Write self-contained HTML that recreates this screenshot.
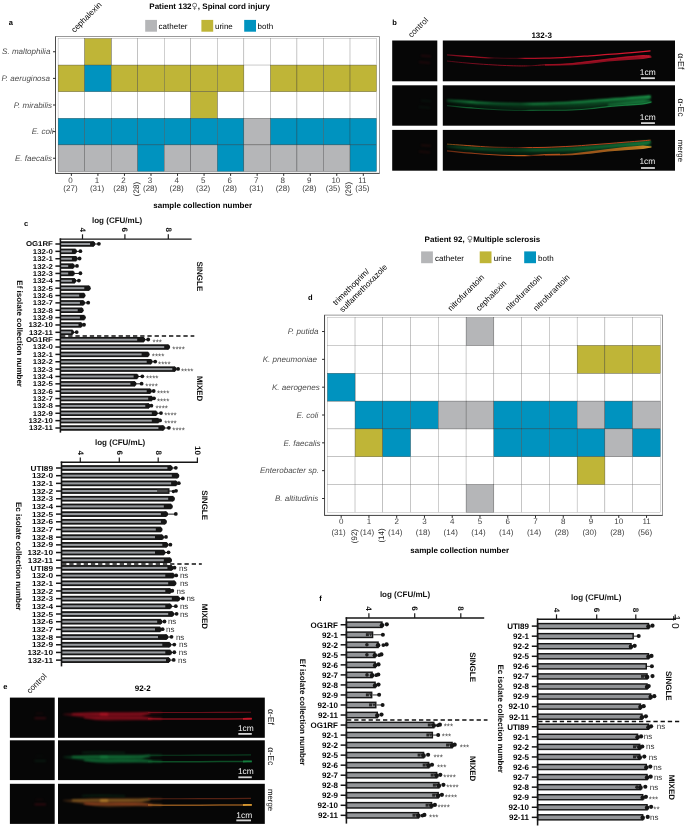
<!DOCTYPE html>
<html lang="en"><head><meta charset="utf-8"><title>Figure</title>
<style>html,body{margin:0;padding:0;background:#fff}svg{display:block}text{font-family:"Liberation Sans", "DejaVu Sans", sans-serif;text-rendering:geometricPrecision}</style></head><body>
<svg width="685" height="826" viewBox="0 0 685 826">
<rect x="0.00" y="0.00" width="685.00" height="826.00" fill="#fff"/>
<defs>
<filter id="bbl05" color-interpolation-filters="sRGB" filterUnits="userSpaceOnUse" x="388" y="36" width="292" height="140"><feGaussianBlur stdDeviation="0.55"/></filter>
<filter id="bbl08" color-interpolation-filters="sRGB" filterUnits="userSpaceOnUse" x="388" y="36" width="292" height="140"><feGaussianBlur stdDeviation="0.8"/></filter>
<filter id="bbl12" color-interpolation-filters="sRGB" filterUnits="userSpaceOnUse" x="388" y="36" width="292" height="140"><feGaussianBlur stdDeviation="1.2"/></filter>
<filter id="ebl05" color-interpolation-filters="sRGB" filterUnits="userSpaceOnUse" x="5" y="693" width="265" height="133"><feGaussianBlur stdDeviation="0.55"/></filter>
<filter id="ebl08" color-interpolation-filters="sRGB" filterUnits="userSpaceOnUse" x="5" y="693" width="265" height="133"><feGaussianBlur stdDeviation="0.8"/></filter>
<filter id="ebl12" color-interpolation-filters="sRGB" filterUnits="userSpaceOnUse" x="5" y="693" width="265" height="133"><feGaussianBlur stdDeviation="1.2"/></filter>
<linearGradient id="bRu" gradientUnits="userSpaceOnUse" x1="447" x2="652" y1="0" y2="0"><stop offset="0" stop-color="#8a0d22" stop-opacity="0.7"/><stop offset="0.1" stop-color="#b01026" stop-opacity="1"/><stop offset="0.19" stop-color="#980e20" stop-opacity="0.9"/><stop offset="0.23" stop-color="#5a0a18" stop-opacity="0.7"/><stop offset="0.34" stop-color="#500814" stop-opacity="0.7"/><stop offset="0.38" stop-color="#a80f24" stop-opacity="1"/><stop offset="0.6" stop-color="#c01228" stop-opacity="1"/><stop offset="0.85" stop-color="#d4162e" stop-opacity="1"/><stop offset="1" stop-color="#dc1830" stop-opacity="1"/></linearGradient>
<linearGradient id="bRl" gradientUnits="userSpaceOnUse" x1="447" x2="652" y1="0" y2="0"><stop offset="0" stop-color="#7a0c20" stop-opacity="0.7"/><stop offset="0.15" stop-color="#980e26" stop-opacity="0.9"/><stop offset="0.38" stop-color="#a00f22" stop-opacity="1"/><stop offset="0.41" stop-color="#600a18" stop-opacity="0.8"/><stop offset="0.45" stop-color="#980e20" stop-opacity="1"/><stop offset="0.7" stop-color="#a80f24" stop-opacity="1"/><stop offset="0.93" stop-color="#b81228" stop-opacity="1"/><stop offset="1" stop-color="#e81c36" stop-opacity="1"/></linearGradient>
<linearGradient id="bGu" gradientUnits="userSpaceOnUse" x1="447" x2="652" y1="0" y2="0"><stop offset="0" stop-color="#12753a" stop-opacity="0.7"/><stop offset="0.12" stop-color="#1c9c4c" stop-opacity="1"/><stop offset="0.22" stop-color="#13783c" stop-opacity="0.9"/><stop offset="0.36" stop-color="#0f6030" stop-opacity="0.8"/><stop offset="0.42" stop-color="#1a9048" stop-opacity="1"/><stop offset="0.75" stop-color="#1c9a4c" stop-opacity="1"/><stop offset="1" stop-color="#24b45a" stop-opacity="1"/></linearGradient>
<linearGradient id="bGf" gradientUnits="userSpaceOnUse" x1="447" x2="652" y1="0" y2="0"><stop offset="0" stop-color="#041a0c" stop-opacity="0.3"/><stop offset="0.06" stop-color="#052010" stop-opacity="0.9"/><stop offset="0.2" stop-color="#062814" stop-opacity="1"/><stop offset="0.5" stop-color="#083418" stop-opacity="1"/><stop offset="0.8" stop-color="#0c4a24" stop-opacity="1"/><stop offset="1" stop-color="#10602e" stop-opacity="1"/></linearGradient>
<linearGradient id="bMu" gradientUnits="userSpaceOnUse" x1="447" x2="652" y1="0" y2="0"><stop offset="0" stop-color="#8a5018" stop-opacity="0.8"/><stop offset="0.12" stop-color="#c8501c" stop-opacity="1"/><stop offset="0.22" stop-color="#8a3414" stop-opacity="0.9"/><stop offset="0.34" stop-color="#5a1a10" stop-opacity="0.8"/><stop offset="0.4" stop-color="#c0441c" stop-opacity="1"/><stop offset="0.8" stop-color="#b8401c" stop-opacity="1"/><stop offset="1" stop-color="#c0481c" stop-opacity="1"/></linearGradient>
<linearGradient id="bMl" gradientUnits="userSpaceOnUse" x1="447" x2="652" y1="0" y2="0"><stop offset="0" stop-color="#7a3014" stop-opacity="0.8"/><stop offset="0.2" stop-color="#a8441a" stop-opacity="1"/><stop offset="0.38" stop-color="#c05c1c" stop-opacity="1"/><stop offset="0.41" stop-color="#6a2a10" stop-opacity="0.8"/><stop offset="0.46" stop-color="#b04c1a" stop-opacity="1"/><stop offset="0.75" stop-color="#b8601c" stop-opacity="1"/><stop offset="0.92" stop-color="#d07c20" stop-opacity="1"/><stop offset="1" stop-color="#f0a030" stop-opacity="1"/></linearGradient>
<linearGradient id="eR" gradientUnits="userSpaceOnUse" x1="63" x2="252" y1="0" y2="0"><stop offset="0" stop-color="#5a0a18" stop-opacity="0.5"/><stop offset="0.08" stop-color="#900e28" stop-opacity="0.9"/><stop offset="0.14" stop-color="#c01434" stop-opacity="1"/><stop offset="0.4" stop-color="#b01230" stop-opacity="1"/><stop offset="0.47" stop-color="#7a0c20" stop-opacity="0.9"/><stop offset="1" stop-color="#6a0a1c" stop-opacity="0.9"/></linearGradient>
<linearGradient id="eRl" gradientUnits="userSpaceOnUse" x1="63" x2="252" y1="0" y2="0"><stop offset="0" stop-color="#5a0a18" stop-opacity="0.4"/><stop offset="0.12" stop-color="#b01230" stop-opacity="1"/><stop offset="0.42" stop-color="#b81232" stop-opacity="1"/><stop offset="0.5" stop-color="#980e28" stop-opacity="1"/><stop offset="0.9" stop-color="#980e28" stop-opacity="1"/><stop offset="1" stop-color="#c01434" stop-opacity="1"/></linearGradient>
<linearGradient id="eG" gradientUnits="userSpaceOnUse" x1="63" x2="252" y1="0" y2="0"><stop offset="0" stop-color="#0a3a1c" stop-opacity="0.5"/><stop offset="0.08" stop-color="#127038" stop-opacity="0.9"/><stop offset="0.14" stop-color="#1ea050" stop-opacity="1"/><stop offset="0.22" stop-color="#1a8c46" stop-opacity="1"/><stop offset="0.4" stop-color="#14703a" stop-opacity="1"/><stop offset="0.47" stop-color="#0e5028" stop-opacity="0.9"/><stop offset="1" stop-color="#0c4824" stop-opacity="0.9"/></linearGradient>
<linearGradient id="eGl" gradientUnits="userSpaceOnUse" x1="63" x2="252" y1="0" y2="0"><stop offset="0" stop-color="#0a3a1c" stop-opacity="0.4"/><stop offset="0.12" stop-color="#178844" stop-opacity="1"/><stop offset="0.42" stop-color="#15783c" stop-opacity="1"/><stop offset="0.5" stop-color="#106030" stop-opacity="1"/><stop offset="0.9" stop-color="#106030" stop-opacity="1"/><stop offset="1" stop-color="#158040" stop-opacity="1"/></linearGradient>
<linearGradient id="eM" gradientUnits="userSpaceOnUse" x1="63" x2="252" y1="0" y2="0"><stop offset="0" stop-color="#5a2a14" stop-opacity="0.5"/><stop offset="0.08" stop-color="#a06a24" stop-opacity="0.9"/><stop offset="0.16" stop-color="#c89030" stop-opacity="1"/><stop offset="0.4" stop-color="#b06424" stop-opacity="1"/><stop offset="0.47" stop-color="#7a2818" stop-opacity="0.9"/><stop offset="1" stop-color="#6a2418" stop-opacity="0.9"/></linearGradient>
<linearGradient id="eMl" gradientUnits="userSpaceOnUse" x1="63" x2="252" y1="0" y2="0"><stop offset="0" stop-color="#5a2a14" stop-opacity="0.4"/><stop offset="0.12" stop-color="#c88a2c" stop-opacity="1"/><stop offset="0.42" stop-color="#c8702a" stop-opacity="1"/><stop offset="0.5" stop-color="#b85a20" stop-opacity="1"/><stop offset="0.9" stop-color="#c07024" stop-opacity="1"/><stop offset="1" stop-color="#d89a30" stop-opacity="1"/></linearGradient>
</defs>
<g opacity="0.999">
<rect x="55.50" y="36.60" width="324.00" height="136.80" fill="#fff" stroke="#808080" stroke-width="0.8"/>
<path d="M55.50,36.60 V173.40 H379.50" fill="none" stroke="#3c3c3c" stroke-width="0.85"/>
<rect x="58.10" y="38.45" width="26.54" height="26.62" fill="#fff" stroke="#8c8c8c" stroke-width="0.35"/>
<rect x="111.18" y="38.45" width="26.54" height="26.62" fill="#fff" stroke="#8c8c8c" stroke-width="0.35"/>
<rect x="137.72" y="38.45" width="26.54" height="26.62" fill="#fff" stroke="#8c8c8c" stroke-width="0.35"/>
<rect x="164.26" y="38.45" width="26.54" height="26.62" fill="#fff" stroke="#8c8c8c" stroke-width="0.35"/>
<rect x="190.80" y="38.45" width="26.54" height="26.62" fill="#fff" stroke="#8c8c8c" stroke-width="0.35"/>
<rect x="217.34" y="38.45" width="26.54" height="26.62" fill="#fff" stroke="#8c8c8c" stroke-width="0.35"/>
<rect x="243.88" y="38.45" width="26.54" height="26.62" fill="#fff" stroke="#8c8c8c" stroke-width="0.35"/>
<rect x="270.42" y="38.45" width="26.54" height="26.62" fill="#fff" stroke="#8c8c8c" stroke-width="0.35"/>
<rect x="296.96" y="38.45" width="26.54" height="26.62" fill="#fff" stroke="#8c8c8c" stroke-width="0.35"/>
<rect x="323.50" y="38.45" width="26.54" height="26.62" fill="#fff" stroke="#8c8c8c" stroke-width="0.35"/>
<rect x="350.04" y="38.45" width="26.54" height="26.62" fill="#fff" stroke="#8c8c8c" stroke-width="0.35"/>
<rect x="243.88" y="65.07" width="26.54" height="26.62" fill="#fff" stroke="#8c8c8c" stroke-width="0.35"/>
<rect x="58.10" y="91.69" width="26.54" height="26.62" fill="#fff" stroke="#8c8c8c" stroke-width="0.35"/>
<rect x="84.64" y="91.69" width="26.54" height="26.62" fill="#fff" stroke="#8c8c8c" stroke-width="0.35"/>
<rect x="111.18" y="91.69" width="26.54" height="26.62" fill="#fff" stroke="#8c8c8c" stroke-width="0.35"/>
<rect x="137.72" y="91.69" width="26.54" height="26.62" fill="#fff" stroke="#8c8c8c" stroke-width="0.35"/>
<rect x="164.26" y="91.69" width="26.54" height="26.62" fill="#fff" stroke="#8c8c8c" stroke-width="0.35"/>
<rect x="217.34" y="91.69" width="26.54" height="26.62" fill="#fff" stroke="#8c8c8c" stroke-width="0.35"/>
<rect x="243.88" y="91.69" width="26.54" height="26.62" fill="#fff" stroke="#8c8c8c" stroke-width="0.35"/>
<rect x="270.42" y="91.69" width="26.54" height="26.62" fill="#fff" stroke="#8c8c8c" stroke-width="0.35"/>
<rect x="296.96" y="91.69" width="26.54" height="26.62" fill="#fff" stroke="#8c8c8c" stroke-width="0.35"/>
<rect x="323.50" y="91.69" width="26.54" height="26.62" fill="#fff" stroke="#8c8c8c" stroke-width="0.35"/>
<rect x="350.04" y="91.69" width="26.54" height="26.62" fill="#fff" stroke="#8c8c8c" stroke-width="0.35"/>
<rect x="84.64" y="38.45" width="26.54" height="26.62" fill="#BFB537" stroke="#333" stroke-width="0.3"/>
<rect x="58.10" y="65.07" width="26.54" height="26.62" fill="#BFB537" stroke="#333" stroke-width="0.3"/>
<rect x="84.64" y="65.07" width="26.54" height="26.62" fill="#0093BF" stroke="#333" stroke-width="0.3"/>
<rect x="111.18" y="65.07" width="26.54" height="26.62" fill="#BFB537" stroke="#333" stroke-width="0.3"/>
<rect x="137.72" y="65.07" width="26.54" height="26.62" fill="#BFB537" stroke="#333" stroke-width="0.3"/>
<rect x="164.26" y="65.07" width="26.54" height="26.62" fill="#BFB537" stroke="#333" stroke-width="0.3"/>
<rect x="190.80" y="65.07" width="26.54" height="26.62" fill="#BFB537" stroke="#333" stroke-width="0.3"/>
<rect x="217.34" y="65.07" width="26.54" height="26.62" fill="#BFB537" stroke="#333" stroke-width="0.3"/>
<rect x="270.42" y="65.07" width="26.54" height="26.62" fill="#BFB537" stroke="#333" stroke-width="0.3"/>
<rect x="296.96" y="65.07" width="26.54" height="26.62" fill="#BFB537" stroke="#333" stroke-width="0.3"/>
<rect x="323.50" y="65.07" width="26.54" height="26.62" fill="#BFB537" stroke="#333" stroke-width="0.3"/>
<rect x="350.04" y="65.07" width="26.54" height="26.62" fill="#BFB537" stroke="#333" stroke-width="0.3"/>
<rect x="190.80" y="91.69" width="26.54" height="26.62" fill="#BFB537" stroke="#333" stroke-width="0.3"/>
<rect x="58.10" y="118.31" width="26.54" height="26.62" fill="#0093BF" stroke="#333" stroke-width="0.3"/>
<rect x="84.64" y="118.31" width="26.54" height="26.62" fill="#0093BF" stroke="#333" stroke-width="0.3"/>
<rect x="111.18" y="118.31" width="26.54" height="26.62" fill="#0093BF" stroke="#333" stroke-width="0.3"/>
<rect x="137.72" y="118.31" width="26.54" height="26.62" fill="#0093BF" stroke="#333" stroke-width="0.3"/>
<rect x="164.26" y="118.31" width="26.54" height="26.62" fill="#0093BF" stroke="#333" stroke-width="0.3"/>
<rect x="190.80" y="118.31" width="26.54" height="26.62" fill="#0093BF" stroke="#333" stroke-width="0.3"/>
<rect x="217.34" y="118.31" width="26.54" height="26.62" fill="#0093BF" stroke="#333" stroke-width="0.3"/>
<rect x="243.88" y="118.31" width="26.54" height="26.62" fill="#B5B6B8" stroke="#333" stroke-width="0.3"/>
<rect x="270.42" y="118.31" width="26.54" height="26.62" fill="#0093BF" stroke="#333" stroke-width="0.3"/>
<rect x="296.96" y="118.31" width="26.54" height="26.62" fill="#0093BF" stroke="#333" stroke-width="0.3"/>
<rect x="323.50" y="118.31" width="26.54" height="26.62" fill="#0093BF" stroke="#333" stroke-width="0.3"/>
<rect x="350.04" y="118.31" width="26.54" height="26.62" fill="#0093BF" stroke="#333" stroke-width="0.3"/>
<rect x="58.10" y="144.93" width="26.54" height="26.62" fill="#B5B6B8" stroke="#333" stroke-width="0.3"/>
<rect x="84.64" y="144.93" width="26.54" height="26.62" fill="#B5B6B8" stroke="#333" stroke-width="0.3"/>
<rect x="111.18" y="144.93" width="26.54" height="26.62" fill="#B5B6B8" stroke="#333" stroke-width="0.3"/>
<rect x="137.72" y="144.93" width="26.54" height="26.62" fill="#0093BF" stroke="#333" stroke-width="0.3"/>
<rect x="164.26" y="144.93" width="26.54" height="26.62" fill="#B5B6B8" stroke="#333" stroke-width="0.3"/>
<rect x="190.80" y="144.93" width="26.54" height="26.62" fill="#B5B6B8" stroke="#333" stroke-width="0.3"/>
<rect x="217.34" y="144.93" width="26.54" height="26.62" fill="#0093BF" stroke="#333" stroke-width="0.3"/>
<rect x="243.88" y="144.93" width="26.54" height="26.62" fill="#B5B6B8" stroke="#333" stroke-width="0.3"/>
<rect x="270.42" y="144.93" width="26.54" height="26.62" fill="#B5B6B8" stroke="#333" stroke-width="0.3"/>
<rect x="296.96" y="144.93" width="26.54" height="26.62" fill="#B5B6B8" stroke="#333" stroke-width="0.3"/>
<rect x="323.50" y="144.93" width="26.54" height="26.62" fill="#B5B6B8" stroke="#333" stroke-width="0.3"/>
<rect x="350.04" y="144.93" width="26.54" height="26.62" fill="#0093BF" stroke="#333" stroke-width="0.3"/>
<line x1="53.00" y1="51.76" x2="55.50" y2="51.76" stroke="#2a2a2a" stroke-width="1.0"/>
<text x="50.40" y="54.46" font-size="8.05" font-weight="normal" font-style="italic" text-anchor="end" fill="#4d4d4d">S. maltophilia</text>
<line x1="53.00" y1="78.38" x2="55.50" y2="78.38" stroke="#2a2a2a" stroke-width="1.0"/>
<text x="50.10" y="81.08" font-size="8.05" font-weight="normal" font-style="italic" text-anchor="end" fill="#4d4d4d">P. aeruginosa</text>
<line x1="53.00" y1="105.00" x2="55.50" y2="105.00" stroke="#2a2a2a" stroke-width="1.0"/>
<text x="52.00" y="107.70" font-size="8.05" font-weight="normal" font-style="italic" text-anchor="end" fill="#4d4d4d">P. mirabilis</text>
<line x1="53.00" y1="131.62" x2="55.50" y2="131.62" stroke="#2a2a2a" stroke-width="1.0"/>
<text x="53.60" y="134.32" font-size="8.05" font-weight="normal" font-style="italic" text-anchor="end" fill="#4d4d4d">E. coli</text>
<line x1="53.00" y1="158.24" x2="55.50" y2="158.24" stroke="#2a2a2a" stroke-width="1.0"/>
<text x="52.00" y="160.94" font-size="8.05" font-weight="normal" font-style="italic" text-anchor="end" fill="#4d4d4d">E. faecalis</text>
<line x1="71.37" y1="173.40" x2="71.37" y2="175.90" stroke="#2a2a2a" stroke-width="1.0"/>
<text x="70.47" y="183.20" font-size="8.0" font-weight="normal" font-style="normal" text-anchor="middle" fill="#444">0</text>
<text x="70.47" y="191.40" font-size="8.0" font-weight="normal" font-style="normal" text-anchor="middle" fill="#3a3a3a">(27)</text>
<line x1="97.91" y1="173.40" x2="97.91" y2="175.90" stroke="#2a2a2a" stroke-width="1.0"/>
<text x="97.01" y="183.20" font-size="8.0" font-weight="normal" font-style="normal" text-anchor="middle" fill="#444">1</text>
<text x="97.01" y="191.40" font-size="8.0" font-weight="normal" font-style="normal" text-anchor="middle" fill="#3a3a3a">(31)</text>
<line x1="124.45" y1="173.40" x2="124.45" y2="175.90" stroke="#2a2a2a" stroke-width="1.0"/>
<text x="123.55" y="183.20" font-size="8.0" font-weight="normal" font-style="normal" text-anchor="middle" fill="#444">2</text>
<text x="120.35" y="191.40" font-size="8.0" font-weight="normal" font-style="normal" text-anchor="middle" fill="#3a3a3a">(28)</text>
<line x1="150.99" y1="173.40" x2="150.99" y2="175.90" stroke="#2a2a2a" stroke-width="1.0"/>
<text x="150.09" y="183.20" font-size="8.0" font-weight="normal" font-style="normal" text-anchor="middle" fill="#444">3</text>
<text x="150.09" y="191.40" font-size="8.0" font-weight="normal" font-style="normal" text-anchor="middle" fill="#3a3a3a">(28)</text>
<line x1="177.53" y1="173.40" x2="177.53" y2="175.90" stroke="#2a2a2a" stroke-width="1.0"/>
<text x="176.63" y="183.20" font-size="8.0" font-weight="normal" font-style="normal" text-anchor="middle" fill="#444">4</text>
<text x="176.63" y="191.40" font-size="8.0" font-weight="normal" font-style="normal" text-anchor="middle" fill="#3a3a3a">(28)</text>
<line x1="204.07" y1="173.40" x2="204.07" y2="175.90" stroke="#2a2a2a" stroke-width="1.0"/>
<text x="203.17" y="183.20" font-size="8.0" font-weight="normal" font-style="normal" text-anchor="middle" fill="#444">5</text>
<text x="203.17" y="191.40" font-size="8.0" font-weight="normal" font-style="normal" text-anchor="middle" fill="#3a3a3a">(32)</text>
<line x1="230.61" y1="173.40" x2="230.61" y2="175.90" stroke="#2a2a2a" stroke-width="1.0"/>
<text x="229.71" y="183.20" font-size="8.0" font-weight="normal" font-style="normal" text-anchor="middle" fill="#444">6</text>
<text x="229.71" y="191.40" font-size="8.0" font-weight="normal" font-style="normal" text-anchor="middle" fill="#3a3a3a">(28)</text>
<line x1="257.15" y1="173.40" x2="257.15" y2="175.90" stroke="#2a2a2a" stroke-width="1.0"/>
<text x="256.25" y="183.20" font-size="8.0" font-weight="normal" font-style="normal" text-anchor="middle" fill="#444">7</text>
<text x="256.25" y="191.40" font-size="8.0" font-weight="normal" font-style="normal" text-anchor="middle" fill="#3a3a3a">(31)</text>
<line x1="283.69" y1="173.40" x2="283.69" y2="175.90" stroke="#2a2a2a" stroke-width="1.0"/>
<text x="282.79" y="183.20" font-size="8.0" font-weight="normal" font-style="normal" text-anchor="middle" fill="#444">8</text>
<text x="282.79" y="191.40" font-size="8.0" font-weight="normal" font-style="normal" text-anchor="middle" fill="#3a3a3a">(28)</text>
<line x1="310.23" y1="173.40" x2="310.23" y2="175.90" stroke="#2a2a2a" stroke-width="1.0"/>
<text x="309.33" y="183.20" font-size="8.0" font-weight="normal" font-style="normal" text-anchor="middle" fill="#444">9</text>
<text x="309.33" y="191.40" font-size="8.0" font-weight="normal" font-style="normal" text-anchor="middle" fill="#3a3a3a">(28)</text>
<line x1="336.77" y1="173.40" x2="336.77" y2="175.90" stroke="#2a2a2a" stroke-width="1.0"/>
<text x="335.87" y="183.20" font-size="8.0" font-weight="normal" font-style="normal" text-anchor="middle" fill="#444">10</text>
<text x="332.97" y="191.40" font-size="8.0" font-weight="normal" font-style="normal" text-anchor="middle" fill="#3a3a3a">(35)</text>
<line x1="363.31" y1="173.40" x2="363.31" y2="175.90" stroke="#2a2a2a" stroke-width="1.0"/>
<text x="362.41" y="183.20" font-size="8.0" font-weight="normal" font-style="normal" text-anchor="middle" fill="#444">11</text>
<text x="362.41" y="191.40" font-size="8.0" font-weight="normal" font-style="normal" text-anchor="middle" fill="#3a3a3a">(35)</text>
<text x="138.80" y="189.00" font-size="8.0" font-weight="normal" font-style="normal" text-anchor="middle" fill="#222" transform="rotate(-90 138.80 189.00)">(28)</text>
<text x="351.40" y="189.00" font-size="8.0" font-weight="normal" font-style="normal" text-anchor="middle" fill="#222" transform="rotate(-90 351.40 189.00)">(26)</text>
<text x="153.30" y="208.00" font-size="8" font-weight="bold" font-style="normal" text-anchor="start" fill="#000">sample collection number</text>
<text x="149.30" y="8.80" font-size="8" font-weight="bold" fill="#000">Patient 132<tspan font-weight="normal" font-family="DejaVu Sans" font-size="8.6" fill="#666">♀</tspan>, Spinal cord injury</text>
<rect x="145.20" y="19.90" width="11.80" height="11.80" fill="#B5B6B8"/>
<text x="158.60" y="29.30" font-size="8" font-weight="normal" font-style="normal" text-anchor="start" fill="#000">catheter</text>
<rect x="201.40" y="19.90" width="11.80" height="11.80" fill="#BFB537"/>
<text x="215.00" y="29.30" font-size="8" font-weight="normal" font-style="normal" text-anchor="start" fill="#000">urine</text>
<rect x="244.20" y="19.90" width="11.80" height="11.80" fill="#0093BF"/>
<text x="257.60" y="29.30" font-size="8" font-weight="normal" font-style="normal" text-anchor="start" fill="#000">both</text>
<text x="74.50" y="33.00" font-size="8.2" font-weight="normal" font-style="normal" text-anchor="start" fill="#000" transform="rotate(-45 74.50 33.00)">cephalexin</text>
<text x="8.80" y="25.40" font-size="7.5" font-weight="bold" font-style="normal" text-anchor="start" fill="#000">a</text>
<rect x="324.55" y="315.10" width="338.05" height="200.30" fill="#fff" stroke="#808080" stroke-width="0.8"/>
<path d="M324.55,315.10 V515.40 H662.60" fill="none" stroke="#3c3c3c" stroke-width="0.85"/>
<rect x="327.30" y="317.60" width="27.76" height="27.83" fill="#fff" stroke="#8c8c8c" stroke-width="0.35"/>
<rect x="355.06" y="317.60" width="27.76" height="27.83" fill="#fff" stroke="#8c8c8c" stroke-width="0.35"/>
<rect x="382.82" y="317.60" width="27.76" height="27.83" fill="#fff" stroke="#8c8c8c" stroke-width="0.35"/>
<rect x="410.58" y="317.60" width="27.76" height="27.83" fill="#fff" stroke="#8c8c8c" stroke-width="0.35"/>
<rect x="438.34" y="317.60" width="27.76" height="27.83" fill="#fff" stroke="#8c8c8c" stroke-width="0.35"/>
<rect x="493.86" y="317.60" width="27.76" height="27.83" fill="#fff" stroke="#8c8c8c" stroke-width="0.35"/>
<rect x="521.62" y="317.60" width="27.76" height="27.83" fill="#fff" stroke="#8c8c8c" stroke-width="0.35"/>
<rect x="549.38" y="317.60" width="27.76" height="27.83" fill="#fff" stroke="#8c8c8c" stroke-width="0.35"/>
<rect x="577.14" y="317.60" width="27.76" height="27.83" fill="#fff" stroke="#8c8c8c" stroke-width="0.35"/>
<rect x="604.90" y="317.60" width="27.76" height="27.83" fill="#fff" stroke="#8c8c8c" stroke-width="0.35"/>
<rect x="632.66" y="317.60" width="27.76" height="27.83" fill="#fff" stroke="#8c8c8c" stroke-width="0.35"/>
<rect x="327.30" y="345.43" width="27.76" height="27.83" fill="#fff" stroke="#8c8c8c" stroke-width="0.35"/>
<rect x="355.06" y="345.43" width="27.76" height="27.83" fill="#fff" stroke="#8c8c8c" stroke-width="0.35"/>
<rect x="382.82" y="345.43" width="27.76" height="27.83" fill="#fff" stroke="#8c8c8c" stroke-width="0.35"/>
<rect x="410.58" y="345.43" width="27.76" height="27.83" fill="#fff" stroke="#8c8c8c" stroke-width="0.35"/>
<rect x="438.34" y="345.43" width="27.76" height="27.83" fill="#fff" stroke="#8c8c8c" stroke-width="0.35"/>
<rect x="466.10" y="345.43" width="27.76" height="27.83" fill="#fff" stroke="#8c8c8c" stroke-width="0.35"/>
<rect x="493.86" y="345.43" width="27.76" height="27.83" fill="#fff" stroke="#8c8c8c" stroke-width="0.35"/>
<rect x="521.62" y="345.43" width="27.76" height="27.83" fill="#fff" stroke="#8c8c8c" stroke-width="0.35"/>
<rect x="549.38" y="345.43" width="27.76" height="27.83" fill="#fff" stroke="#8c8c8c" stroke-width="0.35"/>
<rect x="355.06" y="373.26" width="27.76" height="27.83" fill="#fff" stroke="#8c8c8c" stroke-width="0.35"/>
<rect x="382.82" y="373.26" width="27.76" height="27.83" fill="#fff" stroke="#8c8c8c" stroke-width="0.35"/>
<rect x="410.58" y="373.26" width="27.76" height="27.83" fill="#fff" stroke="#8c8c8c" stroke-width="0.35"/>
<rect x="438.34" y="373.26" width="27.76" height="27.83" fill="#fff" stroke="#8c8c8c" stroke-width="0.35"/>
<rect x="466.10" y="373.26" width="27.76" height="27.83" fill="#fff" stroke="#8c8c8c" stroke-width="0.35"/>
<rect x="493.86" y="373.26" width="27.76" height="27.83" fill="#fff" stroke="#8c8c8c" stroke-width="0.35"/>
<rect x="521.62" y="373.26" width="27.76" height="27.83" fill="#fff" stroke="#8c8c8c" stroke-width="0.35"/>
<rect x="549.38" y="373.26" width="27.76" height="27.83" fill="#fff" stroke="#8c8c8c" stroke-width="0.35"/>
<rect x="577.14" y="373.26" width="27.76" height="27.83" fill="#fff" stroke="#8c8c8c" stroke-width="0.35"/>
<rect x="604.90" y="373.26" width="27.76" height="27.83" fill="#fff" stroke="#8c8c8c" stroke-width="0.35"/>
<rect x="632.66" y="373.26" width="27.76" height="27.83" fill="#fff" stroke="#8c8c8c" stroke-width="0.35"/>
<rect x="327.30" y="401.09" width="27.76" height="27.83" fill="#fff" stroke="#8c8c8c" stroke-width="0.35"/>
<rect x="327.30" y="428.92" width="27.76" height="27.83" fill="#fff" stroke="#8c8c8c" stroke-width="0.35"/>
<rect x="410.58" y="428.92" width="27.76" height="27.83" fill="#fff" stroke="#8c8c8c" stroke-width="0.35"/>
<rect x="438.34" y="428.92" width="27.76" height="27.83" fill="#fff" stroke="#8c8c8c" stroke-width="0.35"/>
<rect x="466.10" y="428.92" width="27.76" height="27.83" fill="#fff" stroke="#8c8c8c" stroke-width="0.35"/>
<rect x="327.30" y="456.75" width="27.76" height="27.83" fill="#fff" stroke="#8c8c8c" stroke-width="0.35"/>
<rect x="355.06" y="456.75" width="27.76" height="27.83" fill="#fff" stroke="#8c8c8c" stroke-width="0.35"/>
<rect x="382.82" y="456.75" width="27.76" height="27.83" fill="#fff" stroke="#8c8c8c" stroke-width="0.35"/>
<rect x="410.58" y="456.75" width="27.76" height="27.83" fill="#fff" stroke="#8c8c8c" stroke-width="0.35"/>
<rect x="438.34" y="456.75" width="27.76" height="27.83" fill="#fff" stroke="#8c8c8c" stroke-width="0.35"/>
<rect x="466.10" y="456.75" width="27.76" height="27.83" fill="#fff" stroke="#8c8c8c" stroke-width="0.35"/>
<rect x="493.86" y="456.75" width="27.76" height="27.83" fill="#fff" stroke="#8c8c8c" stroke-width="0.35"/>
<rect x="521.62" y="456.75" width="27.76" height="27.83" fill="#fff" stroke="#8c8c8c" stroke-width="0.35"/>
<rect x="549.38" y="456.75" width="27.76" height="27.83" fill="#fff" stroke="#8c8c8c" stroke-width="0.35"/>
<rect x="604.90" y="456.75" width="27.76" height="27.83" fill="#fff" stroke="#8c8c8c" stroke-width="0.35"/>
<rect x="632.66" y="456.75" width="27.76" height="27.83" fill="#fff" stroke="#8c8c8c" stroke-width="0.35"/>
<rect x="327.30" y="484.58" width="27.76" height="27.83" fill="#fff" stroke="#8c8c8c" stroke-width="0.35"/>
<rect x="355.06" y="484.58" width="27.76" height="27.83" fill="#fff" stroke="#8c8c8c" stroke-width="0.35"/>
<rect x="382.82" y="484.58" width="27.76" height="27.83" fill="#fff" stroke="#8c8c8c" stroke-width="0.35"/>
<rect x="410.58" y="484.58" width="27.76" height="27.83" fill="#fff" stroke="#8c8c8c" stroke-width="0.35"/>
<rect x="438.34" y="484.58" width="27.76" height="27.83" fill="#fff" stroke="#8c8c8c" stroke-width="0.35"/>
<rect x="493.86" y="484.58" width="27.76" height="27.83" fill="#fff" stroke="#8c8c8c" stroke-width="0.35"/>
<rect x="521.62" y="484.58" width="27.76" height="27.83" fill="#fff" stroke="#8c8c8c" stroke-width="0.35"/>
<rect x="549.38" y="484.58" width="27.76" height="27.83" fill="#fff" stroke="#8c8c8c" stroke-width="0.35"/>
<rect x="577.14" y="484.58" width="27.76" height="27.83" fill="#fff" stroke="#8c8c8c" stroke-width="0.35"/>
<rect x="604.90" y="484.58" width="27.76" height="27.83" fill="#fff" stroke="#8c8c8c" stroke-width="0.35"/>
<rect x="632.66" y="484.58" width="27.76" height="27.83" fill="#fff" stroke="#8c8c8c" stroke-width="0.35"/>
<rect x="466.10" y="317.60" width="27.76" height="27.83" fill="#B5B6B8" stroke="#333" stroke-width="0.3"/>
<rect x="577.14" y="345.43" width="27.76" height="27.83" fill="#BFB537" stroke="#333" stroke-width="0.3"/>
<rect x="604.90" y="345.43" width="27.76" height="27.83" fill="#BFB537" stroke="#333" stroke-width="0.3"/>
<rect x="632.66" y="345.43" width="27.76" height="27.83" fill="#BFB537" stroke="#333" stroke-width="0.3"/>
<rect x="327.30" y="373.26" width="27.76" height="27.83" fill="#0093BF" stroke="#333" stroke-width="0.3"/>
<rect x="355.06" y="401.09" width="27.76" height="27.83" fill="#0093BF" stroke="#333" stroke-width="0.3"/>
<rect x="382.82" y="401.09" width="27.76" height="27.83" fill="#0093BF" stroke="#333" stroke-width="0.3"/>
<rect x="410.58" y="401.09" width="27.76" height="27.83" fill="#0093BF" stroke="#333" stroke-width="0.3"/>
<rect x="438.34" y="401.09" width="27.76" height="27.83" fill="#B5B6B8" stroke="#333" stroke-width="0.3"/>
<rect x="466.10" y="401.09" width="27.76" height="27.83" fill="#B5B6B8" stroke="#333" stroke-width="0.3"/>
<rect x="493.86" y="401.09" width="27.76" height="27.83" fill="#0093BF" stroke="#333" stroke-width="0.3"/>
<rect x="521.62" y="401.09" width="27.76" height="27.83" fill="#0093BF" stroke="#333" stroke-width="0.3"/>
<rect x="549.38" y="401.09" width="27.76" height="27.83" fill="#0093BF" stroke="#333" stroke-width="0.3"/>
<rect x="577.14" y="401.09" width="27.76" height="27.83" fill="#B5B6B8" stroke="#333" stroke-width="0.3"/>
<rect x="604.90" y="401.09" width="27.76" height="27.83" fill="#0093BF" stroke="#333" stroke-width="0.3"/>
<rect x="632.66" y="401.09" width="27.76" height="27.83" fill="#B5B6B8" stroke="#333" stroke-width="0.3"/>
<rect x="355.06" y="428.92" width="27.76" height="27.83" fill="#BFB537" stroke="#333" stroke-width="0.3"/>
<rect x="382.82" y="428.92" width="27.76" height="27.83" fill="#0093BF" stroke="#333" stroke-width="0.3"/>
<rect x="493.86" y="428.92" width="27.76" height="27.83" fill="#0093BF" stroke="#333" stroke-width="0.3"/>
<rect x="521.62" y="428.92" width="27.76" height="27.83" fill="#0093BF" stroke="#333" stroke-width="0.3"/>
<rect x="549.38" y="428.92" width="27.76" height="27.83" fill="#0093BF" stroke="#333" stroke-width="0.3"/>
<rect x="577.14" y="428.92" width="27.76" height="27.83" fill="#0093BF" stroke="#333" stroke-width="0.3"/>
<rect x="604.90" y="428.92" width="27.76" height="27.83" fill="#B5B6B8" stroke="#333" stroke-width="0.3"/>
<rect x="632.66" y="428.92" width="27.76" height="27.83" fill="#0093BF" stroke="#333" stroke-width="0.3"/>
<rect x="577.14" y="456.75" width="27.76" height="27.83" fill="#BFB537" stroke="#333" stroke-width="0.3"/>
<rect x="466.10" y="484.58" width="27.76" height="27.83" fill="#B5B6B8" stroke="#333" stroke-width="0.3"/>
<line x1="322.05" y1="331.52" x2="324.55" y2="331.52" stroke="#2a2a2a" stroke-width="1.0"/>
<text x="318.40" y="334.22" font-size="8.05" font-weight="normal" font-style="italic" text-anchor="end" fill="#4d4d4d">P. putida</text>
<line x1="322.05" y1="359.35" x2="324.55" y2="359.35" stroke="#2a2a2a" stroke-width="1.0"/>
<text x="316.90" y="362.05" font-size="8.05" font-weight="normal" font-style="italic" text-anchor="end" fill="#4d4d4d">K. pneumoniae</text>
<line x1="322.05" y1="387.18" x2="324.55" y2="387.18" stroke="#2a2a2a" stroke-width="1.0"/>
<text x="319.80" y="389.88" font-size="8.05" font-weight="normal" font-style="italic" text-anchor="end" fill="#4d4d4d">K. aerogenes</text>
<line x1="322.05" y1="415.00" x2="324.55" y2="415.00" stroke="#2a2a2a" stroke-width="1.0"/>
<text x="318.40" y="417.70" font-size="8.05" font-weight="normal" font-style="italic" text-anchor="end" fill="#4d4d4d">E. coli</text>
<line x1="322.05" y1="442.84" x2="324.55" y2="442.84" stroke="#2a2a2a" stroke-width="1.0"/>
<text x="320.60" y="445.54" font-size="8.05" font-weight="normal" font-style="italic" text-anchor="end" fill="#4d4d4d">E. faecalis</text>
<line x1="322.05" y1="470.67" x2="324.55" y2="470.67" stroke="#2a2a2a" stroke-width="1.0"/>
<text x="319.00" y="473.37" font-size="8.05" font-weight="normal" font-style="italic" text-anchor="end" fill="#4d4d4d">Enterobacter sp.</text>
<line x1="322.05" y1="498.50" x2="324.55" y2="498.50" stroke="#2a2a2a" stroke-width="1.0"/>
<text x="318.40" y="501.19" font-size="8.05" font-weight="normal" font-style="italic" text-anchor="end" fill="#4d4d4d">B. altitudinis</text>
<line x1="341.18" y1="515.40" x2="341.18" y2="517.90" stroke="#2a2a2a" stroke-width="1.0"/>
<text x="341.18" y="523.80" font-size="8.0" font-weight="normal" font-style="normal" text-anchor="middle" fill="#444">0</text>
<text x="338.58" y="534.90" font-size="8.0" font-weight="normal" font-style="normal" text-anchor="middle" fill="#3a3a3a">(31)</text>
<line x1="368.94" y1="515.40" x2="368.94" y2="517.90" stroke="#2a2a2a" stroke-width="1.0"/>
<text x="368.94" y="523.80" font-size="8.0" font-weight="normal" font-style="normal" text-anchor="middle" fill="#444">1</text>
<text x="367.04" y="534.90" font-size="8.0" font-weight="normal" font-style="normal" text-anchor="middle" fill="#3a3a3a">(14)</text>
<line x1="396.70" y1="515.40" x2="396.70" y2="517.90" stroke="#2a2a2a" stroke-width="1.0"/>
<text x="396.70" y="523.80" font-size="8.0" font-weight="normal" font-style="normal" text-anchor="middle" fill="#444">2</text>
<text x="395.20" y="534.90" font-size="8.0" font-weight="normal" font-style="normal" text-anchor="middle" fill="#3a3a3a">(14)</text>
<line x1="424.46" y1="515.40" x2="424.46" y2="517.90" stroke="#2a2a2a" stroke-width="1.0"/>
<text x="424.46" y="523.80" font-size="8.0" font-weight="normal" font-style="normal" text-anchor="middle" fill="#444">3</text>
<text x="422.96" y="534.90" font-size="8.0" font-weight="normal" font-style="normal" text-anchor="middle" fill="#3a3a3a">(18)</text>
<line x1="452.22" y1="515.40" x2="452.22" y2="517.90" stroke="#2a2a2a" stroke-width="1.0"/>
<text x="452.22" y="523.80" font-size="8.0" font-weight="normal" font-style="normal" text-anchor="middle" fill="#444">4</text>
<text x="450.72" y="534.90" font-size="8.0" font-weight="normal" font-style="normal" text-anchor="middle" fill="#3a3a3a">(14)</text>
<line x1="479.98" y1="515.40" x2="479.98" y2="517.90" stroke="#2a2a2a" stroke-width="1.0"/>
<text x="479.98" y="523.80" font-size="8.0" font-weight="normal" font-style="normal" text-anchor="middle" fill="#444">5</text>
<text x="478.48" y="534.90" font-size="8.0" font-weight="normal" font-style="normal" text-anchor="middle" fill="#3a3a3a">(14)</text>
<line x1="507.74" y1="515.40" x2="507.74" y2="517.90" stroke="#2a2a2a" stroke-width="1.0"/>
<text x="507.74" y="523.80" font-size="8.0" font-weight="normal" font-style="normal" text-anchor="middle" fill="#444">6</text>
<text x="506.24" y="534.90" font-size="8.0" font-weight="normal" font-style="normal" text-anchor="middle" fill="#3a3a3a">(14)</text>
<line x1="535.50" y1="515.40" x2="535.50" y2="517.90" stroke="#2a2a2a" stroke-width="1.0"/>
<text x="535.50" y="523.80" font-size="8.0" font-weight="normal" font-style="normal" text-anchor="middle" fill="#444">7</text>
<text x="534.00" y="534.90" font-size="8.0" font-weight="normal" font-style="normal" text-anchor="middle" fill="#3a3a3a">(14)</text>
<line x1="563.26" y1="515.40" x2="563.26" y2="517.90" stroke="#2a2a2a" stroke-width="1.0"/>
<text x="563.26" y="523.80" font-size="8.0" font-weight="normal" font-style="normal" text-anchor="middle" fill="#444">8</text>
<text x="561.76" y="534.90" font-size="8.0" font-weight="normal" font-style="normal" text-anchor="middle" fill="#3a3a3a">(28)</text>
<line x1="591.02" y1="515.40" x2="591.02" y2="517.90" stroke="#2a2a2a" stroke-width="1.0"/>
<text x="591.02" y="523.80" font-size="8.0" font-weight="normal" font-style="normal" text-anchor="middle" fill="#444">9</text>
<text x="589.52" y="534.90" font-size="8.0" font-weight="normal" font-style="normal" text-anchor="middle" fill="#3a3a3a">(30)</text>
<line x1="618.78" y1="515.40" x2="618.78" y2="517.90" stroke="#2a2a2a" stroke-width="1.0"/>
<text x="618.78" y="523.80" font-size="8.0" font-weight="normal" font-style="normal" text-anchor="middle" fill="#444">10</text>
<text x="617.28" y="534.90" font-size="8.0" font-weight="normal" font-style="normal" text-anchor="middle" fill="#3a3a3a">(28)</text>
<line x1="646.54" y1="515.40" x2="646.54" y2="517.90" stroke="#2a2a2a" stroke-width="1.0"/>
<text x="646.54" y="523.80" font-size="8.0" font-weight="normal" font-style="normal" text-anchor="middle" fill="#444">11</text>
<text x="645.04" y="534.90" font-size="8.0" font-weight="normal" font-style="normal" text-anchor="middle" fill="#3a3a3a">(56)</text>
<text x="356.60" y="536.10" font-size="8.0" font-weight="normal" font-style="normal" text-anchor="middle" fill="#222" transform="rotate(-90 356.60 536.10)">(92)</text>
<text x="384.40" y="535.50" font-size="8.0" font-weight="normal" font-style="normal" text-anchor="middle" fill="#222" transform="rotate(-90 384.40 535.50)">(14)</text>
<text x="410.30" y="552.50" font-size="8" font-weight="bold" font-style="normal" text-anchor="start" fill="#000">sample collection number</text>
<text x="424.60" y="241.70" font-size="8" font-weight="bold" fill="#000">Patient 92, <tspan font-weight="normal" font-family="DejaVu Sans" font-size="8.6" fill="#666">♀</tspan>Multiple sclerosis</text>
<rect x="421.10" y="251.40" width="11.80" height="11.80" fill="#B5B6B8"/>
<text x="435.10" y="260.80" font-size="8" font-weight="normal" font-style="normal" text-anchor="start" fill="#000">catheter</text>
<rect x="479.70" y="251.40" width="11.80" height="11.80" fill="#BFB537"/>
<text x="493.80" y="260.80" font-size="8" font-weight="normal" font-style="normal" text-anchor="start" fill="#000">urine</text>
<rect x="524.20" y="251.40" width="11.80" height="11.80" fill="#0093BF"/>
<text x="538.10" y="260.80" font-size="8" font-weight="normal" font-style="normal" text-anchor="start" fill="#000">both</text>
<text x="336.00" y="305.80" font-size="8.2" font-weight="normal" font-style="normal" text-anchor="start" fill="#000" transform="rotate(-45 336.00 305.80)">trimethoprim/</text>
<text x="342.80" y="312.70" font-size="8.2" font-weight="normal" font-style="normal" text-anchor="start" fill="#000" transform="rotate(-45 342.80 312.70)">sulfamethoxazole</text>
<text x="451.00" y="311.50" font-size="8.2" font-weight="normal" font-style="normal" text-anchor="start" fill="#000" transform="rotate(-45 451.00 311.50)">nitrofurantoin</text>
<text x="479.20" y="311.50" font-size="8.2" font-weight="normal" font-style="normal" text-anchor="start" fill="#000" transform="rotate(-45 479.20 311.50)">cephalexin</text>
<text x="508.60" y="311.50" font-size="8.2" font-weight="normal" font-style="normal" text-anchor="start" fill="#000" transform="rotate(-45 508.60 311.50)">nitrofurantoin</text>
<text x="536.40" y="311.50" font-size="8.2" font-weight="normal" font-style="normal" text-anchor="start" fill="#000" transform="rotate(-45 536.40 311.50)">nitrofurantoin</text>
<text x="308.10" y="299.60" font-size="7.5" font-weight="bold" font-style="normal" text-anchor="start" fill="#000">d</text>
<rect x="392.20" y="40.50" width="45.10" height="40.80" fill="#060606"/>
<rect x="442.80" y="40.50" width="232.20" height="40.80" fill="#060606"/>
<rect x="392.20" y="85.30" width="45.10" height="40.40" fill="#060606"/>
<rect x="442.80" y="85.30" width="232.20" height="40.40" fill="#060606"/>
<rect x="392.20" y="129.90" width="45.10" height="40.80" fill="#060606"/>
<rect x="442.80" y="129.90" width="232.20" height="40.80" fill="#060606"/>
<text x="677.60" y="53.20" font-size="8.7" font-weight="normal" font-style="normal" text-anchor="start" fill="#111" transform="rotate(90 677.60 53.20)">α-Ef</text>
<text x="677.60" y="98.60" font-size="8.7" font-weight="normal" font-style="normal" text-anchor="start" fill="#111" transform="rotate(90 677.60 98.60)">α-Ec</text>
<text x="677.60" y="139.70" font-size="7.9" font-weight="normal" font-style="normal" text-anchor="start" fill="#111" transform="rotate(90 677.60 139.70)">merge</text>
<text x="531.40" y="37.80" font-size="8" font-weight="bold" font-style="normal" text-anchor="start" fill="#000">132-3</text>
<text x="411.40" y="38.00" font-size="8.2" font-weight="normal" font-style="normal" text-anchor="start" fill="#111" transform="rotate(-45 411.40 38.00)">control</text>
<text x="392.20" y="25.30" font-size="7.5" font-weight="bold" font-style="normal" text-anchor="start" fill="#000">b</text>
<path d="M447.0,54.9 C451.7,55.2 467.0,56.4 475.0,56.9 C483.0,57.4 487.5,57.8 495.0,58.0 C502.5,58.2 511.7,58.4 520.0,58.4 C528.3,58.4 536.3,58.4 545.0,58.2 C553.7,58.0 564.5,57.4 572.0,57.0 C579.5,56.6 584.0,56.2 590.0,55.8 C596.0,55.4 602.2,54.8 608.0,54.4 C613.8,54.0 619.2,53.6 625.0,53.1 C630.8,52.6 638.8,52.0 643.0,51.6 C647.2,51.2 649.2,51.0 650.5,50.9" fill="none" stroke="url(#bRu)" stroke-width="1.25" stroke-linecap="butt" opacity="1" filter="url(#bbl05)"/>
<path d="M447.0,61.0 C451.7,61.5 464.5,62.9 475.0,63.7 C485.5,64.5 500.8,65.4 510.0,65.7 C519.2,66.0 524.2,66.0 530.0,65.8 C535.8,65.6 540.0,65.0 545.0,64.8 C550.0,64.6 557.5,64.6 560.0,64.6" fill="none" stroke="url(#bRl)" stroke-width="1.0" stroke-linecap="butt" opacity="0.9" filter="url(#bbl05)"/>
<path d="M545.0,64.2 L560.0,63.8 L572.0,62.9 L590.0,60.8 L608.0,58.6 L625.0,56.6 L643.0,55.0 L651.5,56.6 L651.5,57.6 L643.0,58.9 L625.0,60.2 L608.0,61.6 L590.0,63.8 L572.0,65.2 L560.0,65.5 L545.0,65.4 Z" fill="url(#bRl)" opacity="0.8" filter="url(#bbl05)"/>
<path d="M545.0,65.0 C547.5,64.9 555.5,64.8 560.0,64.6 C564.5,64.4 567.0,64.2 572.0,63.7 C577.0,63.2 584.0,62.3 590.0,61.6 C596.0,60.9 602.2,60.1 608.0,59.4 C613.8,58.7 619.2,58.0 625.0,57.4 C630.8,56.8 638.8,56.1 643.0,55.8 C647.2,55.5 649.2,55.8 650.5,55.8" fill="none" stroke="url(#bRl)" stroke-width="1.0" stroke-linecap="butt" opacity="0.9" filter="url(#bbl05)"/>
<path d="M447.0,99.8 L475.0,101.8 L495.0,102.9 L520.0,103.3 L545.0,103.1 L572.0,101.9 L590.0,100.7 L608.0,99.3 L625.0,98.0 L643.0,96.5 L650.5,95.8 L651.0,97.5 L646.0,99.3 L651.5,100.9 L651.5,102.3 L643.0,104.2 L625.0,105.5 L608.0,106.9 L590.0,109.1 L572.0,110.3 L560.0,110.6 L545.0,110.5 L530.0,110.7 L510.0,110.6 L475.0,108.6 L447.0,105.9 Z" fill="url(#bGf)" opacity="0.55" filter="url(#bbl05)"/>
<path d="M447.0,99.8 L475.0,101.8 L495.0,102.9 L520.0,103.3 L545.0,103.1 L572.0,101.9 L590.0,100.7 L608.0,99.3 L625.0,98.0 L643.0,96.5 L650.5,95.8 L650.5,100.0 L643.0,101.3 L625.0,102.7 L608.0,104.0 L590.0,105.9 L572.0,107.1 L545.0,107.7 L520.0,107.9 L495.0,107.1 L475.0,106.0 L447.0,103.6 Z" fill="url(#bGf)" opacity="0.9" filter="url(#bbl08)"/>
<path d="M447.0,144.4 L475.0,146.4 L495.0,147.5 L520.0,147.9 L545.0,147.7 L572.0,146.5 L590.0,145.3 L608.0,143.9 L625.0,142.6 L643.0,141.1 L650.5,140.4 L651.0,142.1 L646.0,143.9 L651.5,145.5 L651.5,146.9 L643.0,148.8 L625.0,150.1 L608.0,151.5 L590.0,153.7 L572.0,154.9 L560.0,155.2 L545.0,155.1 L530.0,155.3 L510.0,155.2 L475.0,153.2 L447.0,150.5 Z" fill="url(#bGf)" opacity="0.55" filter="url(#bbl05)"/>
<path d="M447.0,144.4 L475.0,146.4 L495.0,147.5 L520.0,147.9 L545.0,147.7 L572.0,146.5 L590.0,145.3 L608.0,143.9 L625.0,142.6 L643.0,141.1 L650.5,140.4 L650.5,144.6 L643.0,145.9 L625.0,147.2 L608.0,148.6 L590.0,150.5 L572.0,151.7 L545.0,152.3 L520.0,152.5 L495.0,151.7 L475.0,150.6 L447.0,148.2 Z" fill="url(#bGf)" opacity="0.9" filter="url(#bbl08)"/>
<path d="M447.0,100.3 C451.7,100.6 467.0,101.8 475.0,102.3 C483.0,102.8 487.5,103.2 495.0,103.4 C502.5,103.7 511.7,103.8 520.0,103.8 C528.3,103.8 536.3,103.8 545.0,103.6 C553.7,103.4 564.5,102.8 572.0,102.4 C579.5,102.0 584.0,101.6 590.0,101.2 C596.0,100.8 602.2,100.2 608.0,99.8 C613.8,99.3 619.2,99.0 625.0,98.5 C630.8,98.0 638.8,97.4 643.0,97.0 C647.2,96.6 649.2,96.4 650.5,96.3" fill="none" stroke="url(#bGu)" stroke-width="1.7" stroke-linecap="butt" opacity="1" filter="url(#bbl08)"/>
<path d="M447.0,105.6 C451.7,106.0 464.5,107.5 475.0,108.3 C485.5,109.1 500.8,110.0 510.0,110.3 C519.2,110.7 524.2,110.4 530.0,110.4 C535.8,110.4 540.0,110.2 545.0,110.2 C550.0,110.2 555.5,110.3 560.0,110.3 C564.5,110.3 567.0,110.2 572.0,110.0 C577.0,109.8 584.0,109.4 590.0,108.8 C596.0,108.2 602.2,107.2 608.0,106.6 C613.8,106.0 619.2,105.7 625.0,105.2 C630.8,104.8 638.6,104.4 643.0,103.9 C647.4,103.4 650.1,102.3 651.5,102.0" fill="none" stroke="url(#bGu)" stroke-width="1.1" stroke-linecap="butt" opacity="0.6" filter="url(#bbl05)"/>
<path d="M608.0,103.9 L625.0,101.9 L643.0,100.1 L651.5,101.5 L651.5,102.3 L643.0,103.6 L625.0,104.9 L608.0,106.1 Z" fill="#1c9a4c" opacity="0.6" filter="url(#bbl08)"/>
<path d="M447.0,146.2 C451.7,146.6 467.0,147.9 475.0,148.4 C483.0,149.0 487.5,149.3 495.0,149.6 C502.5,149.8 511.7,150.0 520.0,150.1 C528.3,150.2 536.3,150.1 545.0,149.9 C553.7,149.7 564.5,149.4 572.0,149.0 C579.5,148.7 584.0,148.3 590.0,147.8 C596.0,147.3 602.2,146.7 608.0,146.2 C613.8,145.7 619.2,145.3 625.0,144.8 C630.8,144.4 638.8,143.8 643.0,143.4 C647.2,143.0 649.2,142.6 650.5,142.4" fill="none" stroke="url(#bGu)" stroke-width="1.6" stroke-linecap="butt" opacity="0.55" filter="url(#bbl08)"/>
<path d="M447.0,144.1 C451.7,144.4 467.0,145.5 475.0,146.1 C483.0,146.6 487.5,146.9 495.0,147.2 C502.5,147.4 511.7,147.5 520.0,147.6 C528.3,147.6 536.3,147.6 545.0,147.4 C553.7,147.1 564.5,146.6 572.0,146.2 C579.5,145.8 584.0,145.4 590.0,144.9 C596.0,144.5 602.2,144.0 608.0,143.6 C613.8,143.1 619.2,142.7 625.0,142.2 C630.8,141.8 638.8,141.1 643.0,140.8 C647.2,140.4 649.2,140.2 650.5,140.1" fill="none" stroke="url(#bMu)" stroke-width="1.0" stroke-linecap="butt" opacity="1" filter="url(#bbl05)"/>
<path d="M447.0,150.8 C451.7,151.2 464.5,152.7 475.0,153.5 C485.5,154.3 500.8,155.2 510.0,155.5 C519.2,155.8 524.2,155.8 530.0,155.6 C535.8,155.4 540.0,154.8 545.0,154.6 C550.0,154.4 557.5,154.4 560.0,154.4" fill="none" stroke="url(#bMl)" stroke-width="1.2" stroke-linecap="butt" opacity="1" filter="url(#bbl05)"/>
<path d="M545.0,154.7 L560.0,154.3 L572.0,153.4 L590.0,151.3 L608.0,149.1 L625.0,147.1 L643.0,145.5 L651.5,146.6 L651.5,147.6 L643.0,148.9 L625.0,150.2 L608.0,151.6 L590.0,153.8 L572.0,155.2 L560.0,155.5 L545.0,155.4 Z" fill="url(#bMl)" opacity="0.85" filter="url(#bbl05)"/>
<path d="M421.0,55.6 C422.7,55.7 429.3,56.3 431.0,56.4" fill="none" stroke="#6a0a18" stroke-width="1.0" stroke-linecap="butt" opacity="0.5" filter="url(#bbl08)"/>
<path d="M419.0,62.0 C420.8,62.2 428.2,62.8 430.0,63.0" fill="none" stroke="#6a0a18" stroke-width="1.0" stroke-linecap="butt" opacity="0.5" filter="url(#bbl08)"/>
<path d="M421.0,100.5 C422.7,100.6 429.3,101.2 431.0,101.3" fill="none" stroke="#0c3420" stroke-width="1.0" stroke-linecap="butt" opacity="0.5" filter="url(#bbl08)"/>
<path d="M419.0,106.9 C420.8,107.1 428.2,107.7 430.0,107.9" fill="none" stroke="#0c3420" stroke-width="1.0" stroke-linecap="butt" opacity="0.5" filter="url(#bbl08)"/>
<path d="M421.0,145.1 C422.7,145.2 429.3,145.8 431.0,145.9" fill="none" stroke="#5a1410" stroke-width="1.0" stroke-linecap="butt" opacity="0.5" filter="url(#bbl08)"/>
<path d="M419.0,151.5 C420.8,151.7 428.2,152.3 430.0,152.5" fill="none" stroke="#5a1410" stroke-width="1.0" stroke-linecap="butt" opacity="0.5" filter="url(#bbl08)"/>
<text x="639.80" y="74.60" font-size="8.4" font-weight="normal" font-style="normal" text-anchor="start" fill="#f4f4f4">1cm</text>
<rect x="641.00" y="77.30" width="13.90" height="1.80" fill="#d4d4d4"/>
<text x="639.80" y="119.90" font-size="8.4" font-weight="normal" font-style="normal" text-anchor="start" fill="#f4f4f4">1cm</text>
<rect x="641.00" y="122.20" width="13.90" height="1.80" fill="#d4d4d4"/>
<text x="639.40" y="163.50" font-size="8.4" font-weight="normal" font-style="normal" text-anchor="start" fill="#f4f4f4">1cm</text>
<rect x="641.00" y="167.10" width="13.90" height="1.80" fill="#d4d4d4"/>
<rect x="9.90" y="697.60" width="44.80" height="40.20" fill="#060606"/>
<rect x="58.00" y="697.60" width="206.80" height="40.20" fill="#060606"/>
<rect x="9.90" y="740.30" width="44.80" height="39.80" fill="#060606"/>
<rect x="58.00" y="740.30" width="206.80" height="39.80" fill="#060606"/>
<rect x="9.90" y="783.80" width="44.80" height="40.10" fill="#060606"/>
<rect x="58.00" y="783.80" width="206.80" height="40.10" fill="#060606"/>
<text x="268.20" y="708.90" font-size="8.7" font-weight="normal" font-style="normal" text-anchor="start" fill="#111" transform="rotate(90 268.20 708.90)">α-Ef</text>
<text x="268.20" y="747.30" font-size="8.7" font-weight="normal" font-style="normal" text-anchor="start" fill="#111" transform="rotate(90 268.20 747.30)">α-Ec</text>
<text x="268.20" y="788.90" font-size="7.9" font-weight="normal" font-style="normal" text-anchor="start" fill="#111" transform="rotate(90 268.20 788.90)">merge</text>
<text x="134.70" y="690.80" font-size="8" font-weight="bold" font-style="normal" text-anchor="start" fill="#000">92-2</text>
<text x="29.90" y="694.00" font-size="8.2" font-weight="normal" font-style="normal" text-anchor="start" fill="#111" transform="rotate(-45 29.90 694.00)">control</text>
<text x="3.30" y="689.20" font-size="7.5" font-weight="bold" font-style="normal" text-anchor="start" fill="#000">e</text>
<path d="M63.0,714.0 L78.0,713.2 L91.0,712.3 L110.0,712.0 L135.0,712.1 L162.0,712.0 L162.0,713.0 L150.0,713.6 L141.0,715.4 L150.0,717.2 L162.0,717.8 L162.0,719.8 L135.0,719.9 L108.0,720.5 L96.0,719.9 L84.0,717.6 L63.0,714.6 Z" fill="#7c0c1a" opacity="0.7" filter="url(#ebl08)"/>
<path d="M72.0,714.2 C75.0,714.2 83.7,714.0 90.0,714.0 C96.3,714.0 102.0,714.2 110.0,714.2 C118.0,714.2 131.3,714.2 138.0,714.0 C144.7,713.8 148.0,713.3 150.0,713.2" fill="none" stroke="#c41426" stroke-width="1.1" stroke-linecap="butt" opacity="0.85" filter="url(#ebl08)"/>
<path d="M84.0,717.4 C86.7,717.5 94.0,717.9 100.0,718.0 C106.0,718.1 113.3,717.8 120.0,717.8 C126.7,717.8 134.7,718.1 140.0,718.2 C145.3,718.3 150.0,718.5 152.0,718.6" fill="none" stroke="#ac1022" stroke-width="1.3" stroke-linecap="butt" opacity="0.85" filter="url(#ebl08)"/>
<path d="M148.0,712.5 C153.3,712.5 168.0,712.5 180.0,712.5 C192.0,712.5 208.2,712.4 220.0,712.4 C231.8,712.4 245.8,712.2 251.0,712.2" fill="none" stroke="#80101e" stroke-width="1.15" stroke-linecap="butt" opacity="0.8" filter="url(#ebl05)"/>
<path d="M148.0,718.7 C153.3,718.8 168.0,719.0 180.0,719.0 C192.0,719.0 208.0,718.9 220.0,718.9 C232.0,718.9 246.5,718.7 251.8,718.7" fill="none" stroke="#a01220" stroke-width="1.5" stroke-linecap="butt" opacity="0.78" filter="url(#ebl05)"/>
<path d="M243.0,718.8 C244.5,718.8 250.3,718.7 251.8,718.7" fill="none" stroke="#cc182a" stroke-width="1.8" stroke-linecap="butt" opacity="0.9" filter="url(#ebl05)"/>
<path d="M100.0,714.4 C101.3,714.4 106.7,714.5 108.0,714.5" fill="none" stroke="#cc182a" stroke-width="1.8" stroke-linecap="butt" opacity="0.8" filter="url(#ebl08)"/>
<path d="M63.0,756.7 L78.0,755.9 L91.0,755.0 L110.0,754.7 L135.0,754.8 L162.0,754.7 L162.0,755.7 L150.0,756.3 L141.0,758.1 L150.0,759.9 L162.0,760.5 L162.0,762.5 L135.0,762.6 L108.0,763.2 L96.0,762.6 L84.0,760.3 L63.0,757.3 Z" fill="#0c5a2c" opacity="0.7" filter="url(#ebl08)"/>
<path d="M72.0,756.9 C75.0,756.9 83.7,756.7 90.0,756.7 C96.3,756.7 102.0,756.9 110.0,756.9 C118.0,756.9 131.3,756.9 138.0,756.7 C144.7,756.5 148.0,756.0 150.0,755.9" fill="none" stroke="#1c9c4e" stroke-width="1.1" stroke-linecap="butt" opacity="0.85" filter="url(#ebl08)"/>
<path d="M84.0,760.1 C86.7,760.2 94.0,760.6 100.0,760.7 C106.0,760.8 113.3,760.5 120.0,760.5 C126.7,760.5 134.7,760.8 140.0,760.9 C145.3,761.0 150.0,761.2 152.0,761.3" fill="none" stroke="#168442" stroke-width="1.3" stroke-linecap="butt" opacity="0.85" filter="url(#ebl08)"/>
<path d="M148.0,755.2 C153.3,755.2 168.0,755.2 180.0,755.2 C192.0,755.2 208.2,755.1 220.0,755.1 C231.8,755.1 245.8,754.9 251.0,754.9" fill="none" stroke="#0c4a26" stroke-width="1.15" stroke-linecap="butt" opacity="0.8" filter="url(#ebl05)"/>
<path d="M148.0,761.4 C153.3,761.5 168.0,761.7 180.0,761.7 C192.0,761.7 208.0,761.6 220.0,761.6 C232.0,761.6 246.5,761.4 251.8,761.4" fill="none" stroke="#10602e" stroke-width="1.5" stroke-linecap="butt" opacity="0.78" filter="url(#ebl05)"/>
<path d="M243.0,761.5 C244.5,761.5 250.3,761.4 251.8,761.4" fill="none" stroke="#178442" stroke-width="1.8" stroke-linecap="butt" opacity="0.9" filter="url(#ebl05)"/>
<path d="M100.0,757.1 C101.3,757.1 106.7,757.2 108.0,757.2" fill="none" stroke="#178442" stroke-width="1.8" stroke-linecap="butt" opacity="0.8" filter="url(#ebl08)"/>
<path d="M63.0,800.2 L78.0,799.4 L91.0,798.5 L110.0,798.2 L135.0,798.3 L162.0,798.2 L162.0,799.2 L150.0,799.8 L141.0,801.6 L150.0,803.4 L162.0,804.0 L162.0,806.0 L135.0,806.1 L108.0,806.7 L96.0,806.1 L84.0,803.8 L63.0,800.8 Z" fill="#70401a" opacity="0.7" filter="url(#ebl08)"/>
<path d="M72.0,800.4 C75.0,800.4 83.7,800.2 90.0,800.2 C96.3,800.2 102.0,800.4 110.0,800.4 C118.0,800.4 131.3,800.4 138.0,800.2 C144.7,800.0 148.0,799.5 150.0,799.4" fill="none" stroke="#b8862e" stroke-width="1.1" stroke-linecap="butt" opacity="0.85" filter="url(#ebl08)"/>
<path d="M84.0,803.6 C86.7,803.7 94.0,804.1 100.0,804.2 C106.0,804.3 113.3,804.0 120.0,804.0 C126.7,804.0 134.7,804.3 140.0,804.4 C145.3,804.5 150.0,804.7 152.0,804.8" fill="none" stroke="#b84a24" stroke-width="1.3" stroke-linecap="butt" opacity="0.85" filter="url(#ebl08)"/>
<path d="M148.0,798.7 C153.3,798.7 168.0,798.7 180.0,798.7 C192.0,798.7 208.2,798.6 220.0,798.6 C231.8,798.6 245.8,798.4 251.0,798.4" fill="none" stroke="#6a2a18" stroke-width="1.15" stroke-linecap="butt" opacity="0.8" filter="url(#ebl05)"/>
<path d="M148.0,804.9 C153.3,805.0 168.0,805.2 180.0,805.2 C192.0,805.2 208.0,805.1 220.0,805.1 C232.0,805.1 246.5,804.9 251.8,804.9" fill="none" stroke="#b06a24" stroke-width="1.5" stroke-linecap="butt" opacity="0.78" filter="url(#ebl05)"/>
<path d="M243.0,805.0 C244.5,805.0 250.3,804.9 251.8,804.9" fill="none" stroke="#e0a034" stroke-width="1.8" stroke-linecap="butt" opacity="0.9" filter="url(#ebl05)"/>
<path d="M100.0,800.6 C101.3,800.6 106.7,800.7 108.0,800.7" fill="none" stroke="#e0a034" stroke-width="1.8" stroke-linecap="butt" opacity="0.8" filter="url(#ebl08)"/>
<path d="M82.0,752.6 C85.0,752.5 92.8,752.2 100.0,752.2 C107.2,752.2 120.8,752.7 125.0,752.8" fill="none" stroke="#0f5a2c" stroke-width="0.9" stroke-linecap="butt" opacity="0.6" filter="url(#ebl08)"/>
<path d="M82.0,795.9 C85.0,795.8 92.8,795.5 100.0,795.5 C107.2,795.5 120.8,796.0 125.0,796.1" fill="none" stroke="#0f5a2c" stroke-width="0.9" stroke-linecap="butt" opacity="0.6" filter="url(#ebl08)"/>
<path d="M34.5,718.2 C36.4,718.2 44.1,718.2 46.0,718.2" fill="none" stroke="#7a0c1c" stroke-width="1.3" stroke-linecap="butt" opacity="0.6" filter="url(#ebl08)"/>
<path d="M36.0,713.4 C37.2,713.4 41.8,713.4 43.0,713.4" fill="none" stroke="#7a0c1c" stroke-width="0.8" stroke-linecap="butt" opacity="0.3" filter="url(#ebl08)"/>
<path d="M34.5,760.9 C36.4,760.9 44.1,760.9 46.0,760.9" fill="none" stroke="#0c3420" stroke-width="1.3" stroke-linecap="butt" opacity="0.6" filter="url(#ebl08)"/>
<path d="M36.0,756.1 C37.2,756.1 41.8,756.1 43.0,756.1" fill="none" stroke="#0c3420" stroke-width="0.8" stroke-linecap="butt" opacity="0.3" filter="url(#ebl08)"/>
<path d="M34.5,804.4 C36.4,804.4 44.1,804.4 46.0,804.4" fill="none" stroke="#6a0c18" stroke-width="1.3" stroke-linecap="butt" opacity="0.6" filter="url(#ebl08)"/>
<path d="M36.0,799.6 C37.2,799.6 41.8,799.6 43.0,799.6" fill="none" stroke="#6a0c18" stroke-width="0.8" stroke-linecap="butt" opacity="0.3" filter="url(#ebl08)"/>
<text x="237.90" y="730.50" font-size="8.4" font-weight="normal" font-style="normal" text-anchor="start" fill="#f4f4f4">1cm</text>
<rect x="238.30" y="733.00" width="13.50" height="1.80" fill="#d4d4d4"/>
<text x="237.90" y="774.00" font-size="8.4" font-weight="normal" font-style="normal" text-anchor="start" fill="#f4f4f4">1cm</text>
<rect x="238.30" y="776.40" width="13.50" height="1.80" fill="#d4d4d4"/>
<text x="236.30" y="817.80" font-size="8.4" font-weight="normal" font-style="normal" text-anchor="start" fill="#f4f4f4">1cm</text>
<rect x="236.30" y="819.50" width="14.70" height="1.80" fill="#d4d4d4"/>
<rect x="60.40" y="241.25" width="33.50" height="5.50" fill="#161616"/>
<circle cx="93.00" cy="244.00" r="2.40" fill="#161616"/>
<rect x="61.00" y="243.00" width="29.10" height="2.00" fill="#96999d"/>
<line x1="93.30" y1="244.00" x2="98.90" y2="244.00" stroke="#161616" stroke-width="1.0"/>
<circle cx="98.90" cy="243.80" r="1.9" fill="#161616"/>
<rect x="60.40" y="248.61" width="15.20" height="5.50" fill="#161616"/>
<circle cx="74.70" cy="251.36" r="2.40" fill="#161616"/>
<rect x="61.00" y="250.36" width="10.90" height="2.00" fill="#96999d"/>
<line x1="75.00" y1="251.36" x2="80.40" y2="251.36" stroke="#161616" stroke-width="1.0"/>
<circle cx="80.40" cy="251.16" r="1.9" fill="#161616"/>
<rect x="60.40" y="255.97" width="15.90" height="5.50" fill="#161616"/>
<circle cx="75.40" cy="258.72" r="2.40" fill="#161616"/>
<rect x="61.00" y="257.72" width="10.90" height="2.00" fill="#96999d"/>
<line x1="75.70" y1="258.72" x2="79.60" y2="258.72" stroke="#161616" stroke-width="1.0"/>
<circle cx="79.60" cy="258.52" r="1.9" fill="#161616"/>
<rect x="60.40" y="263.33" width="13.00" height="5.50" fill="#161616"/>
<circle cx="72.50" cy="266.08" r="2.40" fill="#161616"/>
<rect x="61.00" y="265.08" width="7.20" height="2.00" fill="#96999d"/>
<line x1="72.80" y1="266.08" x2="77.00" y2="266.08" stroke="#161616" stroke-width="1.0"/>
<circle cx="77.00" cy="265.88" r="1.9" fill="#161616"/>
<rect x="60.40" y="270.69" width="13.00" height="5.50" fill="#161616"/>
<circle cx="72.50" cy="273.44" r="2.40" fill="#161616"/>
<rect x="61.00" y="272.44" width="7.20" height="2.00" fill="#96999d"/>
<line x1="72.80" y1="273.44" x2="80.40" y2="273.44" stroke="#161616" stroke-width="1.0"/>
<circle cx="80.40" cy="273.24" r="1.9" fill="#161616"/>
<rect x="60.40" y="278.05" width="14.50" height="5.50" fill="#161616"/>
<circle cx="74.00" cy="280.80" r="2.40" fill="#161616"/>
<rect x="61.00" y="279.80" width="10.90" height="2.00" fill="#96999d"/>
<line x1="74.30" y1="280.80" x2="78.90" y2="280.80" stroke="#161616" stroke-width="1.0"/>
<circle cx="78.90" cy="280.60" r="1.9" fill="#161616"/>
<rect x="60.40" y="285.41" width="28.90" height="5.50" fill="#161616"/>
<circle cx="88.40" cy="288.16" r="2.40" fill="#161616"/>
<rect x="61.00" y="287.16" width="23.30" height="2.00" fill="#96999d"/>
<rect x="60.40" y="292.77" width="23.70" height="5.50" fill="#161616"/>
<circle cx="83.20" cy="295.52" r="2.40" fill="#161616"/>
<rect x="61.00" y="294.52" width="18.20" height="2.00" fill="#96999d"/>
<rect x="60.40" y="300.13" width="23.20" height="5.50" fill="#161616"/>
<circle cx="82.70" cy="302.88" r="2.40" fill="#161616"/>
<rect x="61.00" y="301.88" width="18.90" height="2.00" fill="#96999d"/>
<line x1="83.00" y1="302.88" x2="88.20" y2="302.88" stroke="#161616" stroke-width="1.0"/>
<circle cx="88.20" cy="302.68" r="1.9" fill="#161616"/>
<rect x="60.40" y="307.49" width="21.80" height="5.50" fill="#161616"/>
<circle cx="81.30" cy="310.24" r="2.40" fill="#161616"/>
<rect x="61.00" y="309.24" width="16.70" height="2.00" fill="#96999d"/>
<rect x="60.40" y="314.85" width="24.00" height="5.50" fill="#161616"/>
<circle cx="83.50" cy="317.60" r="2.40" fill="#161616"/>
<rect x="61.00" y="316.60" width="18.90" height="2.00" fill="#96999d"/>
<rect x="60.40" y="322.21" width="21.00" height="5.50" fill="#161616"/>
<circle cx="80.50" cy="324.96" r="2.40" fill="#161616"/>
<rect x="61.00" y="323.96" width="17.50" height="2.00" fill="#96999d"/>
<line x1="80.80" y1="324.96" x2="84.00" y2="324.96" stroke="#161616" stroke-width="1.0"/>
<circle cx="84.00" cy="324.76" r="1.9" fill="#161616"/>
<rect x="60.40" y="329.57" width="12.30" height="5.50" fill="#161616"/>
<circle cx="71.80" cy="332.32" r="2.40" fill="#161616"/>
<rect x="61.00" y="331.32" width="10.20" height="2.00" fill="#96999d"/>
<line x1="72.10" y1="332.32" x2="76.70" y2="332.32" stroke="#161616" stroke-width="1.0"/>
<circle cx="76.70" cy="332.12" r="1.9" fill="#161616"/>
<rect x="60.40" y="336.93" width="83.50" height="5.50" fill="#161616"/>
<circle cx="143.00" cy="339.68" r="2.40" fill="#161616"/>
<rect x="61.00" y="338.68" width="76.20" height="2.00" fill="#96999d"/>
<line x1="143.30" y1="339.68" x2="148.20" y2="339.68" stroke="#161616" stroke-width="1.0"/>
<circle cx="148.20" cy="339.48" r="1.9" fill="#161616"/>
<text x="152.60" y="344.68" font-size="8" font-weight="normal" font-style="normal" text-anchor="start" fill="#333">***</text>
<rect x="60.40" y="344.29" width="108.30" height="5.50" fill="#161616"/>
<circle cx="167.80" cy="347.04" r="2.40" fill="#161616"/>
<rect x="61.00" y="346.04" width="103.20" height="2.00" fill="#96999d"/>
<text x="172.30" y="352.04" font-size="8" font-weight="normal" font-style="normal" text-anchor="start" fill="#333">****</text>
<rect x="60.40" y="351.65" width="87.80" height="5.50" fill="#161616"/>
<circle cx="147.30" cy="354.40" r="2.40" fill="#161616"/>
<rect x="61.00" y="353.40" width="80.60" height="2.00" fill="#96999d"/>
<text x="151.80" y="359.40" font-size="8" font-weight="normal" font-style="normal" text-anchor="start" fill="#333">****</text>
<rect x="60.40" y="359.01" width="90.80" height="5.50" fill="#161616"/>
<circle cx="150.30" cy="361.76" r="2.40" fill="#161616"/>
<rect x="61.00" y="360.76" width="85.70" height="2.00" fill="#96999d"/>
<line x1="150.60" y1="361.76" x2="155.20" y2="361.76" stroke="#161616" stroke-width="1.0"/>
<circle cx="155.20" cy="361.56" r="1.9" fill="#161616"/>
<text x="158.10" y="366.76" font-size="8" font-weight="normal" font-style="normal" text-anchor="start" fill="#333">****</text>
<rect x="60.40" y="366.37" width="114.80" height="5.50" fill="#161616"/>
<circle cx="174.30" cy="369.12" r="2.40" fill="#161616"/>
<rect x="61.00" y="368.12" width="111.30" height="2.00" fill="#96999d"/>
<line x1="174.60" y1="369.12" x2="178.10" y2="369.12" stroke="#161616" stroke-width="1.0"/>
<circle cx="178.10" cy="368.92" r="1.9" fill="#161616"/>
<text x="181.00" y="374.12" font-size="8" font-weight="normal" font-style="normal" text-anchor="start" fill="#333">****</text>
<rect x="60.40" y="373.73" width="76.90" height="5.50" fill="#161616"/>
<circle cx="136.40" cy="376.48" r="2.40" fill="#161616"/>
<rect x="61.00" y="375.48" width="72.60" height="2.00" fill="#96999d"/>
<line x1="136.70" y1="376.48" x2="142.30" y2="376.48" stroke="#161616" stroke-width="1.0"/>
<circle cx="142.30" cy="376.28" r="1.9" fill="#161616"/>
<text x="146.00" y="381.48" font-size="8" font-weight="normal" font-style="normal" text-anchor="start" fill="#333">****</text>
<rect x="60.40" y="381.09" width="74.70" height="5.50" fill="#161616"/>
<circle cx="134.20" cy="383.84" r="2.40" fill="#161616"/>
<rect x="61.00" y="382.84" width="69.40" height="2.00" fill="#96999d"/>
<line x1="134.50" y1="383.84" x2="141.60" y2="383.84" stroke="#161616" stroke-width="1.0"/>
<circle cx="141.60" cy="383.64" r="1.9" fill="#161616"/>
<text x="145.30" y="388.84" font-size="8" font-weight="normal" font-style="normal" text-anchor="start" fill="#333">****</text>
<rect x="60.40" y="388.45" width="90.00" height="5.50" fill="#161616"/>
<circle cx="149.50" cy="391.20" r="2.40" fill="#161616"/>
<rect x="61.00" y="390.20" width="85.70" height="2.00" fill="#96999d"/>
<line x1="149.80" y1="391.20" x2="153.70" y2="391.20" stroke="#161616" stroke-width="1.0"/>
<circle cx="153.70" cy="391.00" r="1.9" fill="#161616"/>
<text x="156.90" y="396.20" font-size="8" font-weight="normal" font-style="normal" text-anchor="start" fill="#333">****</text>
<rect x="60.40" y="395.81" width="91.50" height="5.50" fill="#161616"/>
<circle cx="151.00" cy="398.56" r="2.40" fill="#161616"/>
<rect x="61.00" y="397.56" width="87.20" height="2.00" fill="#96999d"/>
<line x1="151.30" y1="398.56" x2="154.00" y2="398.56" stroke="#161616" stroke-width="1.0"/>
<circle cx="154.00" cy="398.36" r="1.9" fill="#161616"/>
<text x="156.90" y="403.56" font-size="8" font-weight="normal" font-style="normal" text-anchor="start" fill="#333">****</text>
<rect x="60.40" y="403.17" width="88.60" height="5.50" fill="#161616"/>
<circle cx="148.10" cy="405.92" r="2.40" fill="#161616"/>
<rect x="61.00" y="404.92" width="84.30" height="2.00" fill="#96999d"/>
<line x1="148.40" y1="405.92" x2="151.40" y2="405.92" stroke="#161616" stroke-width="1.0"/>
<circle cx="151.40" cy="405.72" r="1.9" fill="#161616"/>
<text x="155.50" y="410.92" font-size="8" font-weight="normal" font-style="normal" text-anchor="start" fill="#333">****</text>
<rect x="60.40" y="410.53" width="95.90" height="5.50" fill="#161616"/>
<circle cx="155.40" cy="413.28" r="2.40" fill="#161616"/>
<rect x="61.00" y="412.28" width="90.80" height="2.00" fill="#96999d"/>
<line x1="155.70" y1="413.28" x2="161.00" y2="413.28" stroke="#161616" stroke-width="1.0"/>
<circle cx="161.00" cy="413.08" r="1.9" fill="#161616"/>
<text x="164.20" y="418.28" font-size="8" font-weight="normal" font-style="normal" text-anchor="start" fill="#333">****</text>
<rect x="60.40" y="417.89" width="98.10" height="5.50" fill="#161616"/>
<circle cx="157.60" cy="420.64" r="2.40" fill="#161616"/>
<rect x="61.00" y="419.64" width="90.80" height="2.00" fill="#96999d"/>
<line x1="157.90" y1="420.64" x2="160.10" y2="420.64" stroke="#161616" stroke-width="1.0"/>
<circle cx="160.10" cy="420.44" r="1.9" fill="#161616"/>
<text x="164.20" y="425.64" font-size="8" font-weight="normal" font-style="normal" text-anchor="start" fill="#333">****</text>
<rect x="60.40" y="425.25" width="103.20" height="5.50" fill="#161616"/>
<circle cx="162.70" cy="428.00" r="2.40" fill="#161616"/>
<rect x="61.00" y="427.00" width="97.40" height="2.00" fill="#96999d"/>
<line x1="163.00" y1="428.00" x2="168.90" y2="428.00" stroke="#161616" stroke-width="1.0"/>
<circle cx="168.90" cy="427.80" r="1.9" fill="#161616"/>
<text x="172.30" y="433.00" font-size="8" font-weight="normal" font-style="normal" text-anchor="start" fill="#333">****</text>
<line x1="55.40" y1="244.00" x2="60.40" y2="244.00" stroke="#161616" stroke-width="1.5"/>
<text x="0" y="0" font-size="7.0" font-weight="bold" font-style="normal" text-anchor="end" fill="#0a0a0a" transform="translate(52.90 246.45) scale(1.12 1)">OG1RF</text>
<line x1="55.40" y1="251.36" x2="60.40" y2="251.36" stroke="#161616" stroke-width="1.5"/>
<text x="0" y="0" font-size="7.0" font-weight="bold" font-style="normal" text-anchor="end" fill="#0a0a0a" transform="translate(52.90 253.81) scale(1.12 1)">132-0</text>
<line x1="55.40" y1="258.72" x2="60.40" y2="258.72" stroke="#161616" stroke-width="1.5"/>
<text x="0" y="0" font-size="7.0" font-weight="bold" font-style="normal" text-anchor="end" fill="#0a0a0a" transform="translate(52.90 261.17) scale(1.12 1)">132-1</text>
<line x1="55.40" y1="266.08" x2="60.40" y2="266.08" stroke="#161616" stroke-width="1.5"/>
<text x="0" y="0" font-size="7.0" font-weight="bold" font-style="normal" text-anchor="end" fill="#0a0a0a" transform="translate(52.90 268.53) scale(1.12 1)">132-2</text>
<line x1="55.40" y1="273.44" x2="60.40" y2="273.44" stroke="#161616" stroke-width="1.5"/>
<text x="0" y="0" font-size="7.0" font-weight="bold" font-style="normal" text-anchor="end" fill="#0a0a0a" transform="translate(52.90 275.89) scale(1.12 1)">132-3</text>
<line x1="55.40" y1="280.80" x2="60.40" y2="280.80" stroke="#161616" stroke-width="1.5"/>
<text x="0" y="0" font-size="7.0" font-weight="bold" font-style="normal" text-anchor="end" fill="#0a0a0a" transform="translate(52.90 283.25) scale(1.12 1)">132-4</text>
<line x1="55.40" y1="288.16" x2="60.40" y2="288.16" stroke="#161616" stroke-width="1.5"/>
<text x="0" y="0" font-size="7.0" font-weight="bold" font-style="normal" text-anchor="end" fill="#0a0a0a" transform="translate(52.90 290.61) scale(1.12 1)">132-5</text>
<line x1="55.40" y1="295.52" x2="60.40" y2="295.52" stroke="#161616" stroke-width="1.5"/>
<text x="0" y="0" font-size="7.0" font-weight="bold" font-style="normal" text-anchor="end" fill="#0a0a0a" transform="translate(52.90 297.97) scale(1.12 1)">132-6</text>
<line x1="55.40" y1="302.88" x2="60.40" y2="302.88" stroke="#161616" stroke-width="1.5"/>
<text x="0" y="0" font-size="7.0" font-weight="bold" font-style="normal" text-anchor="end" fill="#0a0a0a" transform="translate(52.90 305.33) scale(1.12 1)">132-7</text>
<line x1="55.40" y1="310.24" x2="60.40" y2="310.24" stroke="#161616" stroke-width="1.5"/>
<text x="0" y="0" font-size="7.0" font-weight="bold" font-style="normal" text-anchor="end" fill="#0a0a0a" transform="translate(52.90 312.69) scale(1.12 1)">132-8</text>
<line x1="55.40" y1="317.60" x2="60.40" y2="317.60" stroke="#161616" stroke-width="1.5"/>
<text x="0" y="0" font-size="7.0" font-weight="bold" font-style="normal" text-anchor="end" fill="#0a0a0a" transform="translate(52.90 320.05) scale(1.12 1)">132-9</text>
<line x1="55.40" y1="324.96" x2="60.40" y2="324.96" stroke="#161616" stroke-width="1.5"/>
<text x="0" y="0" font-size="7.0" font-weight="bold" font-style="normal" text-anchor="end" fill="#0a0a0a" transform="translate(52.90 327.41) scale(1.12 1)">132-10</text>
<line x1="55.40" y1="332.32" x2="60.40" y2="332.32" stroke="#161616" stroke-width="1.5"/>
<text x="0" y="0" font-size="7.0" font-weight="bold" font-style="normal" text-anchor="end" fill="#0a0a0a" transform="translate(52.90 334.77) scale(1.12 1)">132-11</text>
<line x1="55.40" y1="339.68" x2="60.40" y2="339.68" stroke="#161616" stroke-width="1.5"/>
<text x="0" y="0" font-size="7.0" font-weight="bold" font-style="normal" text-anchor="end" fill="#0a0a0a" transform="translate(52.90 342.13) scale(1.12 1)">OG1RF</text>
<line x1="55.40" y1="347.04" x2="60.40" y2="347.04" stroke="#161616" stroke-width="1.5"/>
<text x="0" y="0" font-size="7.0" font-weight="bold" font-style="normal" text-anchor="end" fill="#0a0a0a" transform="translate(52.90 349.49) scale(1.12 1)">132-0</text>
<line x1="55.40" y1="354.40" x2="60.40" y2="354.40" stroke="#161616" stroke-width="1.5"/>
<text x="0" y="0" font-size="7.0" font-weight="bold" font-style="normal" text-anchor="end" fill="#0a0a0a" transform="translate(52.90 356.85) scale(1.12 1)">132-1</text>
<line x1="55.40" y1="361.76" x2="60.40" y2="361.76" stroke="#161616" stroke-width="1.5"/>
<text x="0" y="0" font-size="7.0" font-weight="bold" font-style="normal" text-anchor="end" fill="#0a0a0a" transform="translate(52.90 364.21) scale(1.12 1)">132-2</text>
<line x1="55.40" y1="369.12" x2="60.40" y2="369.12" stroke="#161616" stroke-width="1.5"/>
<text x="0" y="0" font-size="7.0" font-weight="bold" font-style="normal" text-anchor="end" fill="#0a0a0a" transform="translate(52.90 371.57) scale(1.12 1)">132-3</text>
<line x1="55.40" y1="376.48" x2="60.40" y2="376.48" stroke="#161616" stroke-width="1.5"/>
<text x="0" y="0" font-size="7.0" font-weight="bold" font-style="normal" text-anchor="end" fill="#0a0a0a" transform="translate(52.90 378.93) scale(1.12 1)">132-4</text>
<line x1="55.40" y1="383.84" x2="60.40" y2="383.84" stroke="#161616" stroke-width="1.5"/>
<text x="0" y="0" font-size="7.0" font-weight="bold" font-style="normal" text-anchor="end" fill="#0a0a0a" transform="translate(52.90 386.29) scale(1.12 1)">132-5</text>
<line x1="55.40" y1="391.20" x2="60.40" y2="391.20" stroke="#161616" stroke-width="1.5"/>
<text x="0" y="0" font-size="7.0" font-weight="bold" font-style="normal" text-anchor="end" fill="#0a0a0a" transform="translate(52.90 393.65) scale(1.12 1)">132-6</text>
<line x1="55.40" y1="398.56" x2="60.40" y2="398.56" stroke="#161616" stroke-width="1.5"/>
<text x="0" y="0" font-size="7.0" font-weight="bold" font-style="normal" text-anchor="end" fill="#0a0a0a" transform="translate(52.90 401.01) scale(1.12 1)">132-7</text>
<line x1="55.40" y1="405.92" x2="60.40" y2="405.92" stroke="#161616" stroke-width="1.5"/>
<text x="0" y="0" font-size="7.0" font-weight="bold" font-style="normal" text-anchor="end" fill="#0a0a0a" transform="translate(52.90 408.37) scale(1.12 1)">132-8</text>
<line x1="55.40" y1="413.28" x2="60.40" y2="413.28" stroke="#161616" stroke-width="1.5"/>
<text x="0" y="0" font-size="7.0" font-weight="bold" font-style="normal" text-anchor="end" fill="#0a0a0a" transform="translate(52.90 415.73) scale(1.12 1)">132-9</text>
<line x1="55.40" y1="420.64" x2="60.40" y2="420.64" stroke="#161616" stroke-width="1.5"/>
<text x="0" y="0" font-size="7.0" font-weight="bold" font-style="normal" text-anchor="end" fill="#0a0a0a" transform="translate(52.90 423.09) scale(1.12 1)">132-10</text>
<line x1="55.40" y1="428.00" x2="60.40" y2="428.00" stroke="#161616" stroke-width="1.5"/>
<text x="0" y="0" font-size="7.0" font-weight="bold" font-style="normal" text-anchor="end" fill="#0a0a0a" transform="translate(52.90 430.45) scale(1.12 1)">132-11</text>
<line x1="60.40" y1="238.40" x2="60.40" y2="432.60" stroke="#161616" stroke-width="1.55"/>
<line x1="59.65" y1="239.10" x2="191.60" y2="239.10" stroke="#161616" stroke-width="1.4"/>
<line x1="82.50" y1="239.10" x2="82.50" y2="234.30" stroke="#1a1a1a" stroke-width="1.2"/>
<text x="82.50" y="231.90" font-size="8" font-weight="bold" font-style="normal" text-anchor="end" fill="#111" transform="rotate(90 82.50 231.90)" dominant-baseline="central">4</text>
<line x1="124.90" y1="239.10" x2="124.90" y2="234.30" stroke="#1a1a1a" stroke-width="1.2"/>
<text x="124.90" y="231.90" font-size="8" font-weight="bold" font-style="normal" text-anchor="end" fill="#111" transform="rotate(90 124.90 231.90)" dominant-baseline="central">6</text>
<line x1="168.30" y1="239.10" x2="168.30" y2="234.30" stroke="#1a1a1a" stroke-width="1.2"/>
<text x="168.30" y="231.90" font-size="8" font-weight="bold" font-style="normal" text-anchor="end" fill="#111" transform="rotate(90 168.30 231.90)" dominant-baseline="central">8</text>
<line x1="61.00" y1="335.90" x2="194.30" y2="335.90" stroke="#111" stroke-width="1.5" stroke-dasharray="4.3 2.9"/>
<text x="92.00" y="222.60" font-size="8" font-weight="bold" font-style="normal" text-anchor="start" fill="#111">log (CFU/mL)</text>
<text x="16.60" y="280.30" font-size="8" font-weight="bold" font-style="normal" text-anchor="start" fill="#111" transform="rotate(90 16.60 280.30)">Ef isolate collection number</text>
<text x="196.60" y="261.50" font-size="8" font-weight="bold" font-style="normal" text-anchor="start" fill="#111" transform="rotate(90 196.60 261.50)">SINGLE</text>
<text x="196.60" y="376.00" font-size="8" font-weight="bold" font-style="normal" text-anchor="start" fill="#111" transform="rotate(90 196.60 376.00)">MIXED</text>
<text x="23.90" y="225.90" font-size="7.5" font-weight="bold" font-style="normal" text-anchor="start" fill="#000">c</text>
<rect x="61.50" y="465.15" width="109.70" height="5.70" fill="#161616"/>
<circle cx="170.30" cy="468.00" r="2.50" fill="#161616"/>
<rect x="62.10" y="466.95" width="105.30" height="2.10" fill="#96999d"/>
<line x1="170.60" y1="468.00" x2="175.80" y2="468.00" stroke="#161616" stroke-width="1.0"/>
<circle cx="175.80" cy="467.80" r="1.9" fill="#161616"/>
<rect x="61.50" y="472.83" width="116.20" height="5.70" fill="#161616"/>
<circle cx="176.80" cy="475.69" r="2.50" fill="#161616"/>
<rect x="62.10" y="474.63" width="109.70" height="2.10" fill="#96999d"/>
<rect x="61.50" y="480.52" width="114.80" height="5.70" fill="#161616"/>
<circle cx="175.40" cy="483.37" r="2.50" fill="#161616"/>
<rect x="62.10" y="482.32" width="109.00" height="2.10" fill="#96999d"/>
<line x1="175.70" y1="483.37" x2="178.80" y2="483.37" stroke="#161616" stroke-width="1.0"/>
<circle cx="178.80" cy="483.17" r="1.9" fill="#161616"/>
<rect x="61.50" y="488.20" width="108.00" height="5.70" fill="#161616"/>
<rect x="157.20" y="489.70" width="11.30" height="2.70" fill="#4a4a4a"/>
<circle cx="173.40" cy="491.56" r="1.7" fill="#161616"/>
<rect x="62.10" y="490.00" width="95.10" height="2.10" fill="#96999d"/>
<line x1="167.50" y1="491.06" x2="176.00" y2="491.06" stroke="#161616" stroke-width="1.0"/>
<circle cx="176.00" cy="490.86" r="1.9" fill="#161616"/>
<rect x="61.50" y="495.89" width="111.80" height="5.70" fill="#161616"/>
<circle cx="172.40" cy="498.74" r="2.50" fill="#161616"/>
<rect x="62.10" y="497.69" width="106.10" height="2.10" fill="#96999d"/>
<rect x="61.50" y="503.57" width="109.70" height="5.70" fill="#161616"/>
<circle cx="170.30" cy="506.43" r="2.50" fill="#161616"/>
<rect x="62.10" y="505.38" width="101.70" height="2.10" fill="#96999d"/>
<rect x="61.50" y="511.26" width="105.00" height="5.70" fill="#161616"/>
<circle cx="165.60" cy="514.11" r="2.50" fill="#161616"/>
<rect x="62.10" y="513.06" width="98.80" height="2.10" fill="#96999d"/>
<line x1="165.90" y1="514.11" x2="175.80" y2="514.11" stroke="#161616" stroke-width="1.0"/>
<circle cx="175.80" cy="513.91" r="1.9" fill="#161616"/>
<rect x="61.50" y="518.94" width="103.80" height="5.70" fill="#161616"/>
<circle cx="164.40" cy="521.79" r="2.50" fill="#161616"/>
<rect x="62.10" y="520.75" width="98.80" height="2.10" fill="#96999d"/>
<rect x="61.50" y="526.63" width="99.40" height="5.70" fill="#161616"/>
<circle cx="160.00" cy="529.48" r="2.50" fill="#161616"/>
<rect x="62.10" y="528.43" width="93.70" height="2.10" fill="#96999d"/>
<rect x="61.50" y="534.31" width="100.90" height="5.70" fill="#161616"/>
<circle cx="161.50" cy="537.16" r="2.50" fill="#161616"/>
<rect x="62.10" y="536.12" width="92.90" height="2.10" fill="#96999d"/>
<line x1="161.80" y1="537.16" x2="166.00" y2="537.16" stroke="#161616" stroke-width="1.0"/>
<circle cx="166.00" cy="536.96" r="1.9" fill="#161616"/>
<rect x="61.50" y="542.00" width="105.30" height="5.70" fill="#161616"/>
<circle cx="165.90" cy="544.85" r="2.50" fill="#161616"/>
<rect x="62.10" y="543.80" width="100.20" height="2.10" fill="#96999d"/>
<line x1="166.20" y1="544.85" x2="170.40" y2="544.85" stroke="#161616" stroke-width="1.0"/>
<circle cx="170.40" cy="544.65" r="1.9" fill="#161616"/>
<rect x="61.50" y="549.68" width="102.40" height="5.70" fill="#161616"/>
<circle cx="163.00" cy="552.53" r="2.50" fill="#161616"/>
<rect x="62.10" y="551.49" width="92.90" height="2.10" fill="#96999d"/>
<line x1="163.30" y1="552.53" x2="168.50" y2="552.53" stroke="#161616" stroke-width="1.0"/>
<circle cx="168.50" cy="552.33" r="1.9" fill="#161616"/>
<rect x="61.50" y="557.37" width="108.90" height="5.70" fill="#161616"/>
<circle cx="169.50" cy="560.22" r="2.50" fill="#161616"/>
<rect x="62.10" y="559.17" width="101.70" height="2.10" fill="#96999d"/>
<rect x="61.50" y="565.05" width="110.40" height="5.70" fill="#161616"/>
<circle cx="171.00" cy="567.90" r="2.50" fill="#161616"/>
<rect x="62.10" y="566.86" width="105.30" height="2.10" fill="#96999d"/>
<line x1="171.30" y1="567.90" x2="174.50" y2="567.90" stroke="#161616" stroke-width="1.0"/>
<circle cx="174.50" cy="567.70" r="1.9" fill="#161616"/>
<text x="179.10" y="570.50" font-size="8" font-weight="normal" font-style="normal" text-anchor="start" fill="#333">ns</text>
<rect x="61.50" y="572.74" width="111.80" height="5.70" fill="#161616"/>
<circle cx="172.40" cy="575.59" r="2.50" fill="#161616"/>
<rect x="62.10" y="574.54" width="103.20" height="2.10" fill="#96999d"/>
<line x1="172.70" y1="575.59" x2="176.20" y2="575.59" stroke="#161616" stroke-width="1.0"/>
<circle cx="176.20" cy="575.39" r="1.9" fill="#161616"/>
<text x="179.90" y="578.19" font-size="8" font-weight="normal" font-style="normal" text-anchor="start" fill="#333">ns</text>
<rect x="61.50" y="580.42" width="113.30" height="5.70" fill="#161616"/>
<circle cx="173.90" cy="583.27" r="2.50" fill="#161616"/>
<rect x="62.10" y="582.23" width="106.10" height="2.10" fill="#96999d"/>
<text x="179.90" y="585.88" font-size="8" font-weight="normal" font-style="normal" text-anchor="start" fill="#333">ns</text>
<rect x="61.50" y="588.11" width="108.90" height="5.70" fill="#161616"/>
<circle cx="169.50" cy="590.96" r="2.50" fill="#161616"/>
<rect x="62.10" y="589.91" width="103.20" height="2.10" fill="#96999d"/>
<line x1="169.80" y1="590.96" x2="172.30" y2="590.96" stroke="#161616" stroke-width="1.0"/>
<circle cx="172.30" cy="590.76" r="1.9" fill="#161616"/>
<text x="176.60" y="593.56" font-size="8" font-weight="normal" font-style="normal" text-anchor="start" fill="#333">ns</text>
<rect x="61.50" y="595.79" width="117.00" height="5.70" fill="#161616"/>
<circle cx="177.60" cy="598.64" r="2.50" fill="#161616"/>
<rect x="62.10" y="597.60" width="109.70" height="2.10" fill="#96999d"/>
<line x1="177.90" y1="598.64" x2="182.80" y2="598.64" stroke="#161616" stroke-width="1.0"/>
<circle cx="182.80" cy="598.44" r="1.9" fill="#161616"/>
<text x="186.40" y="601.25" font-size="8" font-weight="normal" font-style="normal" text-anchor="start" fill="#333">ns</text>
<rect x="61.50" y="603.48" width="108.90" height="5.70" fill="#161616"/>
<circle cx="169.50" cy="606.33" r="2.50" fill="#161616"/>
<rect x="62.10" y="605.28" width="103.20" height="2.10" fill="#96999d"/>
<line x1="169.80" y1="606.33" x2="175.80" y2="606.33" stroke="#161616" stroke-width="1.0"/>
<circle cx="175.80" cy="606.13" r="1.9" fill="#161616"/>
<text x="179.90" y="608.93" font-size="8" font-weight="normal" font-style="normal" text-anchor="start" fill="#333">ns</text>
<rect x="61.50" y="611.16" width="111.10" height="5.70" fill="#161616"/>
<circle cx="171.70" cy="614.01" r="2.50" fill="#161616"/>
<rect x="62.10" y="612.97" width="106.10" height="2.10" fill="#96999d"/>
<line x1="172.00" y1="614.01" x2="176.60" y2="614.01" stroke="#161616" stroke-width="1.0"/>
<circle cx="176.60" cy="613.81" r="1.9" fill="#161616"/>
<text x="179.90" y="616.62" font-size="8" font-weight="normal" font-style="normal" text-anchor="start" fill="#333">ns</text>
<rect x="61.50" y="618.85" width="99.40" height="5.70" fill="#161616"/>
<circle cx="160.00" cy="621.70" r="2.50" fill="#161616"/>
<rect x="62.10" y="620.65" width="95.10" height="2.10" fill="#96999d"/>
<line x1="160.30" y1="621.70" x2="164.50" y2="621.70" stroke="#161616" stroke-width="1.0"/>
<circle cx="164.50" cy="621.50" r="1.9" fill="#161616"/>
<text x="167.90" y="624.30" font-size="8" font-weight="normal" font-style="normal" text-anchor="start" fill="#333">ns</text>
<rect x="61.50" y="626.53" width="98.70" height="5.70" fill="#161616"/>
<circle cx="159.30" cy="629.38" r="2.50" fill="#161616"/>
<rect x="62.10" y="628.34" width="92.90" height="2.10" fill="#96999d"/>
<line x1="159.60" y1="629.38" x2="162.60" y2="629.38" stroke="#161616" stroke-width="1.0"/>
<circle cx="162.60" cy="629.18" r="1.9" fill="#161616"/>
<text x="166.00" y="631.99" font-size="8" font-weight="normal" font-style="normal" text-anchor="start" fill="#333">ns</text>
<rect x="61.50" y="634.22" width="105.30" height="5.70" fill="#161616"/>
<circle cx="165.90" cy="637.07" r="2.50" fill="#161616"/>
<rect x="62.10" y="636.02" width="95.90" height="2.10" fill="#96999d"/>
<line x1="166.20" y1="637.07" x2="171.50" y2="637.07" stroke="#161616" stroke-width="1.0"/>
<circle cx="171.50" cy="636.87" r="1.9" fill="#161616"/>
<text x="175.90" y="639.67" font-size="8" font-weight="normal" font-style="normal" text-anchor="start" fill="#333">ns</text>
<rect x="61.50" y="641.90" width="108.20" height="5.70" fill="#161616"/>
<circle cx="168.80" cy="644.75" r="2.50" fill="#161616"/>
<rect x="62.10" y="643.71" width="100.20" height="2.10" fill="#96999d"/>
<line x1="169.10" y1="644.75" x2="174.30" y2="644.75" stroke="#161616" stroke-width="1.0"/>
<circle cx="174.30" cy="644.55" r="1.9" fill="#161616"/>
<text x="179.10" y="647.36" font-size="8" font-weight="normal" font-style="normal" text-anchor="start" fill="#333">ns</text>
<rect x="61.50" y="649.59" width="108.90" height="5.70" fill="#161616"/>
<circle cx="169.50" cy="652.44" r="2.50" fill="#161616"/>
<rect x="62.10" y="651.39" width="103.20" height="2.10" fill="#96999d"/>
<line x1="169.80" y1="652.44" x2="174.30" y2="652.44" stroke="#161616" stroke-width="1.0"/>
<circle cx="174.30" cy="652.24" r="1.9" fill="#161616"/>
<text x="178.80" y="655.04" font-size="8" font-weight="normal" font-style="normal" text-anchor="start" fill="#333">ns</text>
<rect x="61.50" y="657.27" width="107.50" height="5.70" fill="#161616"/>
<circle cx="168.10" cy="660.12" r="2.50" fill="#161616"/>
<rect x="62.10" y="659.08" width="103.90" height="2.10" fill="#96999d"/>
<line x1="168.40" y1="660.12" x2="173.70" y2="660.12" stroke="#161616" stroke-width="1.0"/>
<circle cx="173.70" cy="659.92" r="1.9" fill="#161616"/>
<text x="178.00" y="662.73" font-size="8" font-weight="normal" font-style="normal" text-anchor="start" fill="#333">ns</text>
<line x1="56.00" y1="468.00" x2="61.50" y2="468.00" stroke="#161616" stroke-width="1.5"/>
<text x="0" y="0" font-size="7.35" font-weight="bold" font-style="normal" text-anchor="end" fill="#0a0a0a" transform="translate(53.00 470.60) scale(1.12 1)">UTI89</text>
<line x1="56.00" y1="475.69" x2="61.50" y2="475.69" stroke="#161616" stroke-width="1.5"/>
<text x="0" y="0" font-size="7.35" font-weight="bold" font-style="normal" text-anchor="end" fill="#0a0a0a" transform="translate(53.00 478.28) scale(1.12 1)">132-0</text>
<line x1="56.00" y1="483.37" x2="61.50" y2="483.37" stroke="#161616" stroke-width="1.5"/>
<text x="0" y="0" font-size="7.35" font-weight="bold" font-style="normal" text-anchor="end" fill="#0a0a0a" transform="translate(53.00 485.97) scale(1.12 1)">132-1</text>
<line x1="56.00" y1="491.06" x2="61.50" y2="491.06" stroke="#161616" stroke-width="1.5"/>
<text x="0" y="0" font-size="7.35" font-weight="bold" font-style="normal" text-anchor="end" fill="#0a0a0a" transform="translate(53.00 493.65) scale(1.12 1)">132-2</text>
<line x1="56.00" y1="498.74" x2="61.50" y2="498.74" stroke="#161616" stroke-width="1.5"/>
<text x="0" y="0" font-size="7.35" font-weight="bold" font-style="normal" text-anchor="end" fill="#0a0a0a" transform="translate(53.00 501.34) scale(1.12 1)">132-3</text>
<line x1="56.00" y1="506.43" x2="61.50" y2="506.43" stroke="#161616" stroke-width="1.5"/>
<text x="0" y="0" font-size="7.35" font-weight="bold" font-style="normal" text-anchor="end" fill="#0a0a0a" transform="translate(53.00 509.02) scale(1.12 1)">132-4</text>
<line x1="56.00" y1="514.11" x2="61.50" y2="514.11" stroke="#161616" stroke-width="1.5"/>
<text x="0" y="0" font-size="7.35" font-weight="bold" font-style="normal" text-anchor="end" fill="#0a0a0a" transform="translate(53.00 516.71) scale(1.12 1)">132-5</text>
<line x1="56.00" y1="521.79" x2="61.50" y2="521.79" stroke="#161616" stroke-width="1.5"/>
<text x="0" y="0" font-size="7.35" font-weight="bold" font-style="normal" text-anchor="end" fill="#0a0a0a" transform="translate(53.00 524.39) scale(1.12 1)">132-6</text>
<line x1="56.00" y1="529.48" x2="61.50" y2="529.48" stroke="#161616" stroke-width="1.5"/>
<text x="0" y="0" font-size="7.35" font-weight="bold" font-style="normal" text-anchor="end" fill="#0a0a0a" transform="translate(53.00 532.08) scale(1.12 1)">132-7</text>
<line x1="56.00" y1="537.16" x2="61.50" y2="537.16" stroke="#161616" stroke-width="1.5"/>
<text x="0" y="0" font-size="7.35" font-weight="bold" font-style="normal" text-anchor="end" fill="#0a0a0a" transform="translate(53.00 539.76) scale(1.12 1)">132-8</text>
<line x1="56.00" y1="544.85" x2="61.50" y2="544.85" stroke="#161616" stroke-width="1.5"/>
<text x="0" y="0" font-size="7.35" font-weight="bold" font-style="normal" text-anchor="end" fill="#0a0a0a" transform="translate(53.00 547.45) scale(1.12 1)">132-9</text>
<line x1="56.00" y1="552.53" x2="61.50" y2="552.53" stroke="#161616" stroke-width="1.5"/>
<text x="0" y="0" font-size="7.35" font-weight="bold" font-style="normal" text-anchor="end" fill="#0a0a0a" transform="translate(53.00 555.13) scale(1.12 1)">132-10</text>
<line x1="56.00" y1="560.22" x2="61.50" y2="560.22" stroke="#161616" stroke-width="1.5"/>
<text x="0" y="0" font-size="7.35" font-weight="bold" font-style="normal" text-anchor="end" fill="#0a0a0a" transform="translate(53.00 562.82) scale(1.12 1)">132-11</text>
<line x1="56.00" y1="567.90" x2="61.50" y2="567.90" stroke="#161616" stroke-width="1.5"/>
<text x="0" y="0" font-size="7.35" font-weight="bold" font-style="normal" text-anchor="end" fill="#0a0a0a" transform="translate(53.00 570.50) scale(1.12 1)">UTI89</text>
<line x1="56.00" y1="575.59" x2="61.50" y2="575.59" stroke="#161616" stroke-width="1.5"/>
<text x="0" y="0" font-size="7.35" font-weight="bold" font-style="normal" text-anchor="end" fill="#0a0a0a" transform="translate(53.00 578.19) scale(1.12 1)">132-0</text>
<line x1="56.00" y1="583.27" x2="61.50" y2="583.27" stroke="#161616" stroke-width="1.5"/>
<text x="0" y="0" font-size="7.35" font-weight="bold" font-style="normal" text-anchor="end" fill="#0a0a0a" transform="translate(53.00 585.88) scale(1.12 1)">132-1</text>
<line x1="56.00" y1="590.96" x2="61.50" y2="590.96" stroke="#161616" stroke-width="1.5"/>
<text x="0" y="0" font-size="7.35" font-weight="bold" font-style="normal" text-anchor="end" fill="#0a0a0a" transform="translate(53.00 593.56) scale(1.12 1)">132-2</text>
<line x1="56.00" y1="598.64" x2="61.50" y2="598.64" stroke="#161616" stroke-width="1.5"/>
<text x="0" y="0" font-size="7.35" font-weight="bold" font-style="normal" text-anchor="end" fill="#0a0a0a" transform="translate(53.00 601.25) scale(1.12 1)">132-3</text>
<line x1="56.00" y1="606.33" x2="61.50" y2="606.33" stroke="#161616" stroke-width="1.5"/>
<text x="0" y="0" font-size="7.35" font-weight="bold" font-style="normal" text-anchor="end" fill="#0a0a0a" transform="translate(53.00 608.93) scale(1.12 1)">132-4</text>
<line x1="56.00" y1="614.01" x2="61.50" y2="614.01" stroke="#161616" stroke-width="1.5"/>
<text x="0" y="0" font-size="7.35" font-weight="bold" font-style="normal" text-anchor="end" fill="#0a0a0a" transform="translate(53.00 616.62) scale(1.12 1)">132-5</text>
<line x1="56.00" y1="621.70" x2="61.50" y2="621.70" stroke="#161616" stroke-width="1.5"/>
<text x="0" y="0" font-size="7.35" font-weight="bold" font-style="normal" text-anchor="end" fill="#0a0a0a" transform="translate(53.00 624.30) scale(1.12 1)">132-6</text>
<line x1="56.00" y1="629.38" x2="61.50" y2="629.38" stroke="#161616" stroke-width="1.5"/>
<text x="0" y="0" font-size="7.35" font-weight="bold" font-style="normal" text-anchor="end" fill="#0a0a0a" transform="translate(53.00 631.99) scale(1.12 1)">132-7</text>
<line x1="56.00" y1="637.07" x2="61.50" y2="637.07" stroke="#161616" stroke-width="1.5"/>
<text x="0" y="0" font-size="7.35" font-weight="bold" font-style="normal" text-anchor="end" fill="#0a0a0a" transform="translate(53.00 639.67) scale(1.12 1)">132-8</text>
<line x1="56.00" y1="644.75" x2="61.50" y2="644.75" stroke="#161616" stroke-width="1.5"/>
<text x="0" y="0" font-size="7.35" font-weight="bold" font-style="normal" text-anchor="end" fill="#0a0a0a" transform="translate(53.00 647.36) scale(1.12 1)">132-9</text>
<line x1="56.00" y1="652.44" x2="61.50" y2="652.44" stroke="#161616" stroke-width="1.5"/>
<text x="0" y="0" font-size="7.35" font-weight="bold" font-style="normal" text-anchor="end" fill="#0a0a0a" transform="translate(53.00 655.04) scale(1.12 1)">132-10</text>
<line x1="56.00" y1="660.12" x2="61.50" y2="660.12" stroke="#161616" stroke-width="1.5"/>
<text x="0" y="0" font-size="7.35" font-weight="bold" font-style="normal" text-anchor="end" fill="#0a0a0a" transform="translate(53.00 662.73) scale(1.12 1)">132-11</text>
<line x1="61.50" y1="461.50" x2="61.50" y2="666.40" stroke="#161616" stroke-width="1.55"/>
<line x1="60.75" y1="462.20" x2="198.00" y2="462.20" stroke="#161616" stroke-width="1.4"/>
<line x1="80.30" y1="462.20" x2="80.30" y2="457.40" stroke="#1a1a1a" stroke-width="1.2"/>
<text x="80.30" y="454.90" font-size="8" font-weight="bold" font-style="normal" text-anchor="end" fill="#111" transform="rotate(90 80.30 454.90)" dominant-baseline="central">4</text>
<line x1="119.30" y1="462.20" x2="119.30" y2="457.40" stroke="#1a1a1a" stroke-width="1.2"/>
<text x="119.30" y="454.90" font-size="8" font-weight="bold" font-style="normal" text-anchor="end" fill="#111" transform="rotate(90 119.30 454.90)" dominant-baseline="central">6</text>
<line x1="158.20" y1="462.20" x2="158.20" y2="457.40" stroke="#1a1a1a" stroke-width="1.2"/>
<text x="158.20" y="454.90" font-size="8" font-weight="bold" font-style="normal" text-anchor="end" fill="#111" transform="rotate(90 158.20 454.90)" dominant-baseline="central">8</text>
<line x1="197.40" y1="462.20" x2="197.40" y2="457.40" stroke="#1a1a1a" stroke-width="1.2"/>
<text x="197.40" y="454.90" font-size="8" font-weight="bold" font-style="normal" text-anchor="end" fill="#111" transform="rotate(90 197.40 454.90)" dominant-baseline="central">10</text>
<line x1="62.10" y1="564.00" x2="201.80" y2="564.00" stroke="#111" stroke-width="1.5" stroke-dasharray="4.3 2.9"/>
<text x="95.00" y="445.20" font-size="8" font-weight="bold" font-style="normal" text-anchor="start" fill="#111">log (CFU/mL)</text>
<text x="15.60" y="502.00" font-size="8" font-weight="bold" font-style="normal" text-anchor="start" fill="#111" transform="rotate(90 15.60 502.00)">Ec isolate collection number</text>
<text x="201.50" y="490.30" font-size="8" font-weight="bold" font-style="normal" text-anchor="start" fill="#111" transform="rotate(90 201.50 490.30)">SINGLE</text>
<text x="201.50" y="603.80" font-size="8" font-weight="bold" font-style="normal" text-anchor="start" fill="#111" transform="rotate(90 201.50 603.80)">MIXED</text>
<rect x="346.40" y="622.08" width="35.58" height="5.35" fill="#939598" stroke="#161616" stroke-width="1.45"/>
<circle cx="382.00" cy="625.25" r="2.3" fill="#161616"/>
<circle cx="386.80" cy="624.35" r="2.1" fill="#161616"/>
<rect x="346.40" y="632.11" width="26.18" height="5.35" fill="#939598" stroke="#161616" stroke-width="1.45"/>
<rect x="365.90" y="633.18" width="3.00" height="3.00" fill="#2a2a2a"/>
<path d="M368.80,633.18 h3.6 l-1.8,3.4 Z" fill="#2a2a2a"/>
<line x1="373.30" y1="634.78" x2="382.90" y2="634.78" stroke="#161616" stroke-width="0.9"/>
<circle cx="382.90" cy="634.68" r="2.0" fill="#161616"/>
<rect x="346.40" y="642.13" width="31.68" height="5.35" fill="#939598" stroke="#161616" stroke-width="1.45"/>
<circle cx="366.90" cy="644.81" r="1.8" fill="#222"/>
<circle cx="378.10" cy="645.31" r="2.3" fill="#161616"/>
<circle cx="386.60" cy="644.41" r="2.1" fill="#161616"/>
<circle cx="383.35" cy="645.11" r="1.9" fill="#161616"/>
<rect x="346.40" y="652.17" width="28.48" height="5.35" fill="#939598" stroke="#161616" stroke-width="1.45"/>
<circle cx="366.90" cy="654.84" r="1.8" fill="#222"/>
<circle cx="374.90" cy="655.34" r="2.3" fill="#161616"/>
<circle cx="381.40" cy="654.44" r="2.1" fill="#161616"/>
<circle cx="379.15" cy="655.14" r="1.9" fill="#161616"/>
<rect x="346.40" y="662.20" width="28.77" height="5.35" fill="#939598" stroke="#161616" stroke-width="1.45"/>
<circle cx="375.20" cy="665.37" r="2.3" fill="#161616"/>
<circle cx="378.50" cy="664.47" r="2.1" fill="#161616"/>
<rect x="346.40" y="672.23" width="25.68" height="5.35" fill="#939598" stroke="#161616" stroke-width="1.45"/>
<circle cx="367.00" cy="674.90" r="1.8" fill="#222"/>
<circle cx="372.10" cy="675.40" r="2.3" fill="#161616"/>
<circle cx="378.30" cy="674.50" r="2.1" fill="#161616"/>
<circle cx="376.20" cy="675.20" r="1.9" fill="#161616"/>
<rect x="346.40" y="682.25" width="28.68" height="5.35" fill="#939598" stroke="#161616" stroke-width="1.45"/>
<circle cx="375.10" cy="685.43" r="2.3" fill="#161616"/>
<circle cx="378.50" cy="684.53" r="2.1" fill="#161616"/>
<rect x="346.40" y="692.29" width="25.27" height="5.35" fill="#939598" stroke="#161616" stroke-width="1.45"/>
<rect x="365.90" y="693.36" width="3.00" height="3.00" fill="#2a2a2a"/>
<path d="M368.80,693.36 h3.6 l-1.8,3.4 Z" fill="#2a2a2a"/>
<line x1="372.40" y1="694.96" x2="379.10" y2="694.96" stroke="#161616" stroke-width="0.9"/>
<circle cx="379.10" cy="694.86" r="2.0" fill="#161616"/>
<rect x="346.40" y="702.32" width="29.38" height="5.35" fill="#939598" stroke="#161616" stroke-width="1.45"/>
<rect x="369.10" y="703.39" width="3.00" height="3.00" fill="#2a2a2a"/>
<path d="M372.20,703.39 h3.6 l-1.8,3.4 Z" fill="#2a2a2a"/>
<line x1="376.50" y1="704.99" x2="382.60" y2="704.99" stroke="#161616" stroke-width="0.9"/>
<circle cx="382.60" cy="704.89" r="2.0" fill="#161616"/>
<rect x="346.40" y="712.35" width="30.88" height="5.35" fill="#939598" stroke="#161616" stroke-width="1.45"/>
<circle cx="377.30" cy="715.52" r="2.3" fill="#161616"/>
<circle cx="381.50" cy="714.62" r="2.1" fill="#161616"/>
<rect x="346.40" y="722.38" width="87.38" height="5.35" fill="#939598" stroke="#161616" stroke-width="1.45"/>
<rect x="427.80" y="723.45" width="3.00" height="3.00" fill="#2a2a2a"/>
<path d="M430.40,723.45 h3.6 l-1.8,3.4 Z" fill="#2a2a2a"/>
<circle cx="433.80" cy="725.55" r="2.3" fill="#161616"/>
<circle cx="439.90" cy="724.65" r="2.1" fill="#161616"/>
<circle cx="437.85" cy="725.35" r="1.9" fill="#161616"/>
<text x="443.70" y="729.45" font-size="8" font-weight="normal" font-style="normal" text-anchor="start" fill="#333">***</text>
<rect x="346.40" y="732.41" width="85.98" height="5.35" fill="#939598" stroke="#161616" stroke-width="1.45"/>
<rect x="426.40" y="733.48" width="3.00" height="3.00" fill="#2a2a2a"/>
<path d="M429.00,733.48 h3.6 l-1.8,3.4 Z" fill="#2a2a2a"/>
<line x1="433.10" y1="735.08" x2="438.20" y2="735.08" stroke="#161616" stroke-width="0.9"/>
<circle cx="438.20" cy="734.98" r="2.0" fill="#161616"/>
<text x="441.80" y="739.48" font-size="8" font-weight="normal" font-style="normal" text-anchor="start" fill="#333">***</text>
<rect x="346.40" y="742.44" width="105.68" height="5.35" fill="#939598" stroke="#161616" stroke-width="1.45"/>
<rect x="446.10" y="743.51" width="3.00" height="3.00" fill="#2a2a2a"/>
<path d="M448.70,743.51 h3.6 l-1.8,3.4 Z" fill="#2a2a2a"/>
<circle cx="452.10" cy="745.61" r="2.3" fill="#161616"/>
<circle cx="454.70" cy="744.71" r="2.1" fill="#161616"/>
<text x="459.80" y="749.51" font-size="8" font-weight="normal" font-style="normal" text-anchor="start" fill="#333">***</text>
<rect x="346.40" y="752.47" width="77.18" height="5.35" fill="#939598" stroke="#161616" stroke-width="1.45"/>
<rect x="417.60" y="753.54" width="3.00" height="3.00" fill="#2a2a2a"/>
<path d="M420.20,753.54 h3.6 l-1.8,3.4 Z" fill="#2a2a2a"/>
<circle cx="423.60" cy="755.64" r="2.3" fill="#161616"/>
<circle cx="428.10" cy="754.74" r="2.1" fill="#161616"/>
<text x="433.50" y="759.54" font-size="8" font-weight="normal" font-style="normal" text-anchor="start" fill="#333">***</text>
<rect x="346.40" y="762.50" width="82.28" height="5.35" fill="#939598" stroke="#161616" stroke-width="1.45"/>
<rect x="422.70" y="763.57" width="3.00" height="3.00" fill="#2a2a2a"/>
<path d="M425.30,763.57 h3.6 l-1.8,3.4 Z" fill="#2a2a2a"/>
<circle cx="428.70" cy="765.67" r="2.3" fill="#161616"/>
<circle cx="432.00" cy="764.77" r="2.1" fill="#161616"/>
<text x="437.00" y="769.57" font-size="8" font-weight="normal" font-style="normal" text-anchor="start" fill="#333">***</text>
<rect x="346.40" y="772.53" width="90.28" height="5.35" fill="#939598" stroke="#161616" stroke-width="1.45"/>
<rect x="430.70" y="773.60" width="3.00" height="3.00" fill="#2a2a2a"/>
<path d="M433.30,773.60 h3.6 l-1.8,3.4 Z" fill="#2a2a2a"/>
<circle cx="436.70" cy="775.70" r="2.3" fill="#161616"/>
<circle cx="440.30" cy="774.80" r="2.1" fill="#161616"/>
<text x="443.30" y="779.60" font-size="8" font-weight="normal" font-style="normal" text-anchor="start" fill="#333">****</text>
<rect x="346.40" y="782.56" width="92.48" height="5.35" fill="#939598" stroke="#161616" stroke-width="1.45"/>
<rect x="432.90" y="783.63" width="3.00" height="3.00" fill="#2a2a2a"/>
<path d="M435.50,783.63 h3.6 l-1.8,3.4 Z" fill="#2a2a2a"/>
<circle cx="438.90" cy="785.73" r="2.3" fill="#161616"/>
<circle cx="443.40" cy="784.83" r="2.1" fill="#161616"/>
<text x="446.20" y="789.63" font-size="8" font-weight="normal" font-style="normal" text-anchor="start" fill="#333">****</text>
<rect x="346.40" y="792.59" width="91.78" height="5.35" fill="#939598" stroke="#161616" stroke-width="1.45"/>
<rect x="432.20" y="793.66" width="3.00" height="3.00" fill="#2a2a2a"/>
<path d="M434.80,793.66 h3.6 l-1.8,3.4 Z" fill="#2a2a2a"/>
<circle cx="438.20" cy="795.76" r="2.3" fill="#161616"/>
<circle cx="441.90" cy="794.86" r="2.1" fill="#161616"/>
<text x="444.70" y="799.66" font-size="8" font-weight="normal" font-style="normal" text-anchor="start" fill="#333">****</text>
<rect x="346.40" y="802.62" width="85.18" height="5.35" fill="#939598" stroke="#161616" stroke-width="1.45"/>
<rect x="425.60" y="803.69" width="3.00" height="3.00" fill="#2a2a2a"/>
<path d="M428.20,803.69 h3.6 l-1.8,3.4 Z" fill="#2a2a2a"/>
<circle cx="431.60" cy="805.79" r="2.3" fill="#161616"/>
<circle cx="434.90" cy="804.89" r="2.1" fill="#161616"/>
<text x="437.40" y="809.69" font-size="8" font-weight="normal" font-style="normal" text-anchor="start" fill="#333">****</text>
<rect x="346.40" y="812.64" width="72.08" height="5.35" fill="#939598" stroke="#161616" stroke-width="1.45"/>
<rect x="412.50" y="813.72" width="3.00" height="3.00" fill="#2a2a2a"/>
<path d="M415.00,813.72 h3.6 l-1.8,3.4 Z" fill="#2a2a2a"/>
<circle cx="418.50" cy="815.82" r="2.3" fill="#161616"/>
<circle cx="424.40" cy="814.92" r="2.1" fill="#161616"/>
<circle cx="422.45" cy="815.62" r="1.9" fill="#161616"/>
<text x="429.10" y="819.72" font-size="8" font-weight="normal" font-style="normal" text-anchor="start" fill="#333">***</text>
<line x1="340.60" y1="624.75" x2="346.40" y2="624.75" stroke="#161616" stroke-width="1.5"/>
<text x="338.00" y="627.60" font-size="8.0" font-weight="bold" font-style="normal" text-anchor="end" fill="#050505">OG1RF</text>
<line x1="340.60" y1="634.78" x2="346.40" y2="634.78" stroke="#161616" stroke-width="1.5"/>
<text x="338.00" y="637.63" font-size="8.0" font-weight="bold" font-style="normal" text-anchor="end" fill="#050505">92-1</text>
<line x1="340.60" y1="644.81" x2="346.40" y2="644.81" stroke="#161616" stroke-width="1.5"/>
<text x="338.00" y="647.66" font-size="8.0" font-weight="bold" font-style="normal" text-anchor="end" fill="#050505">92-2</text>
<line x1="340.60" y1="654.84" x2="346.40" y2="654.84" stroke="#161616" stroke-width="1.5"/>
<text x="338.00" y="657.69" font-size="8.0" font-weight="bold" font-style="normal" text-anchor="end" fill="#050505">92-5</text>
<line x1="340.60" y1="664.87" x2="346.40" y2="664.87" stroke="#161616" stroke-width="1.5"/>
<text x="338.00" y="667.72" font-size="8.0" font-weight="bold" font-style="normal" text-anchor="end" fill="#050505">92-6</text>
<line x1="340.60" y1="674.90" x2="346.40" y2="674.90" stroke="#161616" stroke-width="1.5"/>
<text x="338.00" y="677.75" font-size="8.0" font-weight="bold" font-style="normal" text-anchor="end" fill="#050505">92-7</text>
<line x1="340.60" y1="684.93" x2="346.40" y2="684.93" stroke="#161616" stroke-width="1.5"/>
<text x="338.00" y="687.78" font-size="8.0" font-weight="bold" font-style="normal" text-anchor="end" fill="#050505">92-8</text>
<line x1="340.60" y1="694.96" x2="346.40" y2="694.96" stroke="#161616" stroke-width="1.5"/>
<text x="338.00" y="697.81" font-size="8.0" font-weight="bold" font-style="normal" text-anchor="end" fill="#050505">92-9</text>
<line x1="340.60" y1="704.99" x2="346.40" y2="704.99" stroke="#161616" stroke-width="1.5"/>
<text x="338.00" y="707.84" font-size="8.0" font-weight="bold" font-style="normal" text-anchor="end" fill="#050505">92-10</text>
<line x1="340.60" y1="715.02" x2="346.40" y2="715.02" stroke="#161616" stroke-width="1.5"/>
<text x="338.00" y="717.87" font-size="8.0" font-weight="bold" font-style="normal" text-anchor="end" fill="#050505">92-11</text>
<line x1="340.60" y1="725.05" x2="346.40" y2="725.05" stroke="#161616" stroke-width="1.5"/>
<text x="338.00" y="727.90" font-size="8.0" font-weight="bold" font-style="normal" text-anchor="end" fill="#050505">OG1RF</text>
<line x1="340.60" y1="735.08" x2="346.40" y2="735.08" stroke="#161616" stroke-width="1.5"/>
<text x="338.00" y="737.93" font-size="8.0" font-weight="bold" font-style="normal" text-anchor="end" fill="#050505">92-1</text>
<line x1="340.60" y1="745.11" x2="346.40" y2="745.11" stroke="#161616" stroke-width="1.5"/>
<text x="338.00" y="747.96" font-size="8.0" font-weight="bold" font-style="normal" text-anchor="end" fill="#050505">92-2</text>
<line x1="340.60" y1="755.14" x2="346.40" y2="755.14" stroke="#161616" stroke-width="1.5"/>
<text x="338.00" y="757.99" font-size="8.0" font-weight="bold" font-style="normal" text-anchor="end" fill="#050505">92-5</text>
<line x1="340.60" y1="765.17" x2="346.40" y2="765.17" stroke="#161616" stroke-width="1.5"/>
<text x="338.00" y="768.02" font-size="8.0" font-weight="bold" font-style="normal" text-anchor="end" fill="#050505">92-6</text>
<line x1="340.60" y1="775.20" x2="346.40" y2="775.20" stroke="#161616" stroke-width="1.5"/>
<text x="338.00" y="778.05" font-size="8.0" font-weight="bold" font-style="normal" text-anchor="end" fill="#050505">92-7</text>
<line x1="340.60" y1="785.23" x2="346.40" y2="785.23" stroke="#161616" stroke-width="1.5"/>
<text x="338.00" y="788.08" font-size="8.0" font-weight="bold" font-style="normal" text-anchor="end" fill="#050505">92-8</text>
<line x1="340.60" y1="795.26" x2="346.40" y2="795.26" stroke="#161616" stroke-width="1.5"/>
<text x="338.00" y="798.11" font-size="8.0" font-weight="bold" font-style="normal" text-anchor="end" fill="#050505">92-9</text>
<line x1="340.60" y1="805.29" x2="346.40" y2="805.29" stroke="#161616" stroke-width="1.5"/>
<text x="338.00" y="808.14" font-size="8.0" font-weight="bold" font-style="normal" text-anchor="end" fill="#050505">92-10</text>
<line x1="340.60" y1="815.32" x2="346.40" y2="815.32" stroke="#161616" stroke-width="1.5"/>
<text x="338.00" y="818.17" font-size="8.0" font-weight="bold" font-style="normal" text-anchor="end" fill="#050505">92-11</text>
<line x1="346.40" y1="617.30" x2="346.40" y2="823.60" stroke="#161616" stroke-width="1.55"/>
<line x1="345.65" y1="618.00" x2="484.20" y2="618.00" stroke="#161616" stroke-width="1.4"/>
<line x1="368.90" y1="618.00" x2="368.90" y2="613.20" stroke="#1a1a1a" stroke-width="1.2"/>
<text x="368.90" y="610.80" font-size="8" font-weight="bold" font-style="normal" text-anchor="end" fill="#111" transform="rotate(90 368.90 610.80)" dominant-baseline="central">4</text>
<line x1="414.70" y1="618.00" x2="414.70" y2="613.20" stroke="#1a1a1a" stroke-width="1.2"/>
<text x="414.70" y="610.80" font-size="8" font-weight="bold" font-style="normal" text-anchor="end" fill="#111" transform="rotate(90 414.70 610.80)" dominant-baseline="central">6</text>
<line x1="460.80" y1="618.00" x2="460.80" y2="613.20" stroke="#1a1a1a" stroke-width="1.2"/>
<text x="460.80" y="610.80" font-size="8" font-weight="bold" font-style="normal" text-anchor="end" fill="#111" transform="rotate(90 460.80 610.80)" dominant-baseline="central">8</text>
<line x1="347.00" y1="719.90" x2="487.50" y2="719.90" stroke="#111" stroke-width="1.5" stroke-dasharray="4.3 2.9"/>
<text x="379.90" y="597.40" font-size="8" font-weight="bold" font-style="normal" text-anchor="start" fill="#111">log (CFU/mL)</text>
<text x="300.40" y="658.80" font-size="8" font-weight="bold" font-style="normal" text-anchor="start" fill="#111" transform="rotate(90 300.40 658.80)">Ef isolate collection number</text>
<text x="469.50" y="652.20" font-size="8" font-weight="bold" font-style="normal" text-anchor="start" fill="#111" transform="rotate(90 469.50 652.20)">SINGLE</text>
<text x="469.50" y="756.00" font-size="8" font-weight="bold" font-style="normal" text-anchor="start" fill="#111" transform="rotate(90 469.50 756.00)">MIXED</text>
<text x="319.20" y="601.00" font-size="7.5" font-weight="bold" font-style="normal" text-anchor="start" fill="#000">f</text>
<rect x="537.60" y="623.58" width="110.88" height="5.05" fill="#939598" stroke="#161616" stroke-width="1.45"/>
<circle cx="648.50" cy="626.60" r="2.3" fill="#161616"/>
<circle cx="652.50" cy="625.70" r="2.1" fill="#161616"/>
<rect x="537.60" y="633.64" width="95.57" height="5.05" fill="#939598" stroke="#161616" stroke-width="1.45"/>
<line x1="633.90" y1="636.17" x2="638.70" y2="636.17" stroke="#161616" stroke-width="0.9"/>
<circle cx="638.70" cy="636.07" r="2.0" fill="#161616"/>
<rect x="537.60" y="643.71" width="93.38" height="5.05" fill="#939598" stroke="#161616" stroke-width="1.45"/>
<circle cx="631.00" cy="646.73" r="2.3" fill="#161616"/>
<circle cx="634.70" cy="645.83" r="2.1" fill="#161616"/>
<rect x="537.60" y="653.77" width="110.88" height="5.05" fill="#939598" stroke="#161616" stroke-width="1.45"/>
<circle cx="648.50" cy="656.80" r="2.3" fill="#161616"/>
<circle cx="651.50" cy="655.90" r="2.1" fill="#161616"/>
<rect x="537.60" y="663.84" width="108.67" height="5.05" fill="#939598" stroke="#161616" stroke-width="1.45"/>
<line x1="647.00" y1="666.36" x2="651.90" y2="666.36" stroke="#161616" stroke-width="0.9"/>
<circle cx="651.90" cy="666.26" r="2.0" fill="#161616"/>
<rect x="537.60" y="673.90" width="109.47" height="5.05" fill="#939598" stroke="#161616" stroke-width="1.45"/>
<rect x="641.00" y="674.83" width="3.00" height="3.00" fill="#2a2a2a"/>
<path d="M643.40,674.83 h3.6 l-1.8,3.4 Z" fill="#2a2a2a"/>
<circle cx="647.10" cy="676.93" r="2.3" fill="#161616"/>
<circle cx="652.50" cy="676.03" r="2.1" fill="#161616"/>
<rect x="537.60" y="683.97" width="109.47" height="5.05" fill="#939598" stroke="#161616" stroke-width="1.45"/>
<circle cx="647.10" cy="686.99" r="2.3" fill="#161616"/>
<circle cx="648.70" cy="686.09" r="2.1" fill="#161616"/>
<rect x="537.60" y="694.03" width="113.07" height="5.05" fill="#939598" stroke="#161616" stroke-width="1.45"/>
<circle cx="650.70" cy="697.06" r="2.3" fill="#161616"/>
<circle cx="654.30" cy="696.16" r="2.1" fill="#161616"/>
<rect x="537.60" y="704.10" width="102.88" height="5.05" fill="#939598" stroke="#161616" stroke-width="1.45"/>
<circle cx="640.50" cy="707.12" r="2.3" fill="#161616"/>
<circle cx="643.70" cy="706.22" r="2.1" fill="#161616"/>
<rect x="537.60" y="714.16" width="104.38" height="5.05" fill="#939598" stroke="#161616" stroke-width="1.45"/>
<circle cx="642.00" cy="717.19" r="2.3" fill="#161616"/>
<circle cx="645.90" cy="716.29" r="2.1" fill="#161616"/>
<rect x="537.60" y="724.23" width="110.88" height="5.05" fill="#939598" stroke="#161616" stroke-width="1.45"/>
<circle cx="648.50" cy="727.25" r="2.3" fill="#161616"/>
<circle cx="651.10" cy="726.35" r="2.1" fill="#161616"/>
<text x="656.80" y="729.35" font-size="8" font-weight="normal" font-style="normal" text-anchor="start" fill="#333">ns</text>
<rect x="537.60" y="734.29" width="99.97" height="5.05" fill="#939598" stroke="#161616" stroke-width="1.45"/>
<circle cx="637.60" cy="737.32" r="2.3" fill="#161616"/>
<circle cx="641.10" cy="736.42" r="2.1" fill="#161616"/>
<text x="643.80" y="739.42" font-size="8" font-weight="normal" font-style="normal" text-anchor="start" fill="#333">ns</text>
<rect x="537.60" y="744.36" width="102.17" height="5.05" fill="#939598" stroke="#161616" stroke-width="1.45"/>
<rect x="633.00" y="745.28" width="3.00" height="3.00" fill="#2a2a2a"/>
<path d="M635.70,745.28 h3.6 l-1.8,3.4 Z" fill="#2a2a2a"/>
<circle cx="639.80" cy="747.38" r="2.3" fill="#161616"/>
<circle cx="642.30" cy="746.48" r="2.1" fill="#161616"/>
<text x="646.00" y="749.48" font-size="8" font-weight="normal" font-style="normal" text-anchor="start" fill="#333">ns</text>
<rect x="537.60" y="754.42" width="102.17" height="5.05" fill="#939598" stroke="#161616" stroke-width="1.45"/>
<rect x="633.00" y="755.35" width="3.00" height="3.00" fill="#2a2a2a"/>
<path d="M635.70,755.35 h3.6 l-1.8,3.4 Z" fill="#2a2a2a"/>
<circle cx="639.80" cy="757.45" r="2.3" fill="#161616"/>
<circle cx="644.30" cy="756.55" r="2.1" fill="#161616"/>
<text x="648.80" y="759.55" font-size="8" font-weight="normal" font-style="normal" text-anchor="start" fill="#333">ns</text>
<rect x="537.60" y="764.49" width="108.67" height="5.05" fill="#939598" stroke="#161616" stroke-width="1.45"/>
<circle cx="646.30" cy="767.51" r="2.3" fill="#161616"/>
<circle cx="650.30" cy="766.61" r="2.1" fill="#161616"/>
<text x="653.20" y="769.61" font-size="8" font-weight="normal" font-style="normal" text-anchor="start" fill="#333">ns</text>
<rect x="537.60" y="774.55" width="109.47" height="5.05" fill="#939598" stroke="#161616" stroke-width="1.45"/>
<circle cx="647.10" cy="777.58" r="2.3" fill="#161616"/>
<circle cx="650.70" cy="776.68" r="2.1" fill="#161616"/>
<text x="653.90" y="779.68" font-size="8" font-weight="normal" font-style="normal" text-anchor="start" fill="#333">ns</text>
<rect x="537.60" y="784.62" width="102.88" height="5.05" fill="#939598" stroke="#161616" stroke-width="1.45"/>
<circle cx="637.00" cy="787.14" r="1.8" fill="#222"/>
<circle cx="640.50" cy="787.64" r="2.3" fill="#161616"/>
<circle cx="645.30" cy="786.74" r="2.1" fill="#161616"/>
<text x="649.70" y="789.74" font-size="8" font-weight="normal" font-style="normal" text-anchor="start" fill="#333">ns</text>
<rect x="537.60" y="794.68" width="105.07" height="5.05" fill="#939598" stroke="#161616" stroke-width="1.45"/>
<circle cx="642.70" cy="797.71" r="2.3" fill="#161616"/>
<circle cx="645.90" cy="796.81" r="2.1" fill="#161616"/>
<text x="648.80" y="801.61" font-size="8" font-weight="normal" font-style="normal" text-anchor="start" fill="#333">***</text>
<rect x="537.60" y="804.75" width="109.47" height="5.05" fill="#939598" stroke="#161616" stroke-width="1.45"/>
<circle cx="647.10" cy="807.77" r="2.3" fill="#161616"/>
<circle cx="651.10" cy="806.87" r="2.1" fill="#161616"/>
<text x="653.30" y="811.67" font-size="8" font-weight="normal" font-style="normal" text-anchor="start" fill="#333">**</text>
<rect x="537.60" y="814.81" width="105.07" height="5.05" fill="#939598" stroke="#161616" stroke-width="1.45"/>
<circle cx="642.70" cy="817.84" r="2.3" fill="#161616"/>
<circle cx="647.70" cy="816.94" r="2.1" fill="#161616"/>
<text x="650.00" y="819.94" font-size="8" font-weight="normal" font-style="normal" text-anchor="start" fill="#333">ns</text>
<line x1="531.80" y1="626.10" x2="537.60" y2="626.10" stroke="#161616" stroke-width="1.5"/>
<text x="529.00" y="628.95" font-size="8.0" font-weight="bold" font-style="normal" text-anchor="end" fill="#050505">UTI89</text>
<line x1="531.80" y1="636.17" x2="537.60" y2="636.17" stroke="#161616" stroke-width="1.5"/>
<text x="529.00" y="639.02" font-size="8.0" font-weight="bold" font-style="normal" text-anchor="end" fill="#050505">92-1</text>
<line x1="531.80" y1="646.23" x2="537.60" y2="646.23" stroke="#161616" stroke-width="1.5"/>
<text x="529.00" y="649.08" font-size="8.0" font-weight="bold" font-style="normal" text-anchor="end" fill="#050505">92-2</text>
<line x1="531.80" y1="656.30" x2="537.60" y2="656.30" stroke="#161616" stroke-width="1.5"/>
<text x="529.00" y="659.15" font-size="8.0" font-weight="bold" font-style="normal" text-anchor="end" fill="#050505">92-5</text>
<line x1="531.80" y1="666.36" x2="537.60" y2="666.36" stroke="#161616" stroke-width="1.5"/>
<text x="529.00" y="669.21" font-size="8.0" font-weight="bold" font-style="normal" text-anchor="end" fill="#050505">92-6</text>
<line x1="531.80" y1="676.43" x2="537.60" y2="676.43" stroke="#161616" stroke-width="1.5"/>
<text x="529.00" y="679.28" font-size="8.0" font-weight="bold" font-style="normal" text-anchor="end" fill="#050505">92-7</text>
<line x1="531.80" y1="686.49" x2="537.60" y2="686.49" stroke="#161616" stroke-width="1.5"/>
<text x="529.00" y="689.34" font-size="8.0" font-weight="bold" font-style="normal" text-anchor="end" fill="#050505">92-8</text>
<line x1="531.80" y1="696.56" x2="537.60" y2="696.56" stroke="#161616" stroke-width="1.5"/>
<text x="529.00" y="699.41" font-size="8.0" font-weight="bold" font-style="normal" text-anchor="end" fill="#050505">92-9</text>
<line x1="531.80" y1="706.62" x2="537.60" y2="706.62" stroke="#161616" stroke-width="1.5"/>
<text x="529.00" y="709.47" font-size="8.0" font-weight="bold" font-style="normal" text-anchor="end" fill="#050505">92-10</text>
<line x1="531.80" y1="716.69" x2="537.60" y2="716.69" stroke="#161616" stroke-width="1.5"/>
<text x="529.00" y="719.54" font-size="8.0" font-weight="bold" font-style="normal" text-anchor="end" fill="#050505">92-11</text>
<line x1="531.80" y1="726.75" x2="537.60" y2="726.75" stroke="#161616" stroke-width="1.5"/>
<text x="529.00" y="729.60" font-size="8.0" font-weight="bold" font-style="normal" text-anchor="end" fill="#050505">UTI89</text>
<line x1="531.80" y1="736.82" x2="537.60" y2="736.82" stroke="#161616" stroke-width="1.5"/>
<text x="529.00" y="739.67" font-size="8.0" font-weight="bold" font-style="normal" text-anchor="end" fill="#050505">92-1</text>
<line x1="531.80" y1="746.88" x2="537.60" y2="746.88" stroke="#161616" stroke-width="1.5"/>
<text x="529.00" y="749.73" font-size="8.0" font-weight="bold" font-style="normal" text-anchor="end" fill="#050505">92-2</text>
<line x1="531.80" y1="756.95" x2="537.60" y2="756.95" stroke="#161616" stroke-width="1.5"/>
<text x="529.00" y="759.80" font-size="8.0" font-weight="bold" font-style="normal" text-anchor="end" fill="#050505">92-5</text>
<line x1="531.80" y1="767.01" x2="537.60" y2="767.01" stroke="#161616" stroke-width="1.5"/>
<text x="529.00" y="769.86" font-size="8.0" font-weight="bold" font-style="normal" text-anchor="end" fill="#050505">92-6</text>
<line x1="531.80" y1="777.08" x2="537.60" y2="777.08" stroke="#161616" stroke-width="1.5"/>
<text x="529.00" y="779.93" font-size="8.0" font-weight="bold" font-style="normal" text-anchor="end" fill="#050505">92-7</text>
<line x1="531.80" y1="787.14" x2="537.60" y2="787.14" stroke="#161616" stroke-width="1.5"/>
<text x="529.00" y="789.99" font-size="8.0" font-weight="bold" font-style="normal" text-anchor="end" fill="#050505">92-8</text>
<line x1="531.80" y1="797.21" x2="537.60" y2="797.21" stroke="#161616" stroke-width="1.5"/>
<text x="529.00" y="800.06" font-size="8.0" font-weight="bold" font-style="normal" text-anchor="end" fill="#050505">92-9</text>
<line x1="531.80" y1="807.27" x2="537.60" y2="807.27" stroke="#161616" stroke-width="1.5"/>
<text x="529.00" y="810.12" font-size="8.0" font-weight="bold" font-style="normal" text-anchor="end" fill="#050505">92-10</text>
<line x1="531.80" y1="817.34" x2="537.60" y2="817.34" stroke="#161616" stroke-width="1.5"/>
<text x="529.00" y="820.19" font-size="8.0" font-weight="bold" font-style="normal" text-anchor="end" fill="#050505">92-11</text>
<line x1="537.60" y1="618.50" x2="537.60" y2="825.50" stroke="#161616" stroke-width="1.55"/>
<line x1="536.85" y1="619.20" x2="676.00" y2="619.20" stroke="#161616" stroke-width="1.4"/>
<line x1="556.50" y1="619.20" x2="556.50" y2="614.40" stroke="#1a1a1a" stroke-width="1.2"/>
<text x="556.50" y="612.20" font-size="8" font-weight="bold" font-style="normal" text-anchor="end" fill="#111" transform="rotate(90 556.50 612.20)" dominant-baseline="central">4</text>
<line x1="596.70" y1="619.20" x2="596.70" y2="614.40" stroke="#1a1a1a" stroke-width="1.2"/>
<text x="596.70" y="612.20" font-size="8" font-weight="bold" font-style="normal" text-anchor="end" fill="#111" transform="rotate(90 596.70 612.20)" dominant-baseline="central">6</text>
<line x1="635.80" y1="619.20" x2="635.80" y2="614.40" stroke="#1a1a1a" stroke-width="1.2"/>
<text x="635.80" y="612.20" font-size="8" font-weight="bold" font-style="normal" text-anchor="end" fill="#111" transform="rotate(90 635.80 612.20)" dominant-baseline="central">8</text>
<line x1="675.20" y1="619.20" x2="675.20" y2="614.40" stroke="#1a1a1a" stroke-width="1.2"/>
<line x1="538.20" y1="721.60" x2="679.20" y2="721.60" stroke="#111" stroke-width="1.5" stroke-dasharray="4.3 2.9"/>
<text x="571.10" y="599.70" font-size="8" font-weight="bold" font-style="normal" text-anchor="start" fill="#111">log (CFU/mL)</text>
<text x="498.10" y="664.50" font-size="8" font-weight="bold" font-style="normal" text-anchor="start" fill="#111" transform="rotate(90 498.10 664.50)">Ec isolate collection number</text>
<text x="666.00" y="670.90" font-size="8" font-weight="bold" font-style="normal" text-anchor="start" fill="#111" transform="rotate(90 666.00 670.90)">SINGLE</text>
<text x="668.50" y="774.70" font-size="8" font-weight="bold" font-style="normal" text-anchor="start" fill="#111" transform="rotate(90 668.50 774.70)">MIXED</text>
<text x="675.00" y="615.20" font-size="10.2" font-weight="normal" font-style="normal" text-anchor="start" fill="#111" transform="rotate(90 675.00 615.20)" dominant-baseline="central">1</text>
<text x="674.80" y="623.00" font-size="10.2" font-weight="normal" font-style="normal" text-anchor="start" fill="#111" transform="rotate(90 674.80 623.00)" dominant-baseline="central">0</text>
</g>
</svg></body></html>
